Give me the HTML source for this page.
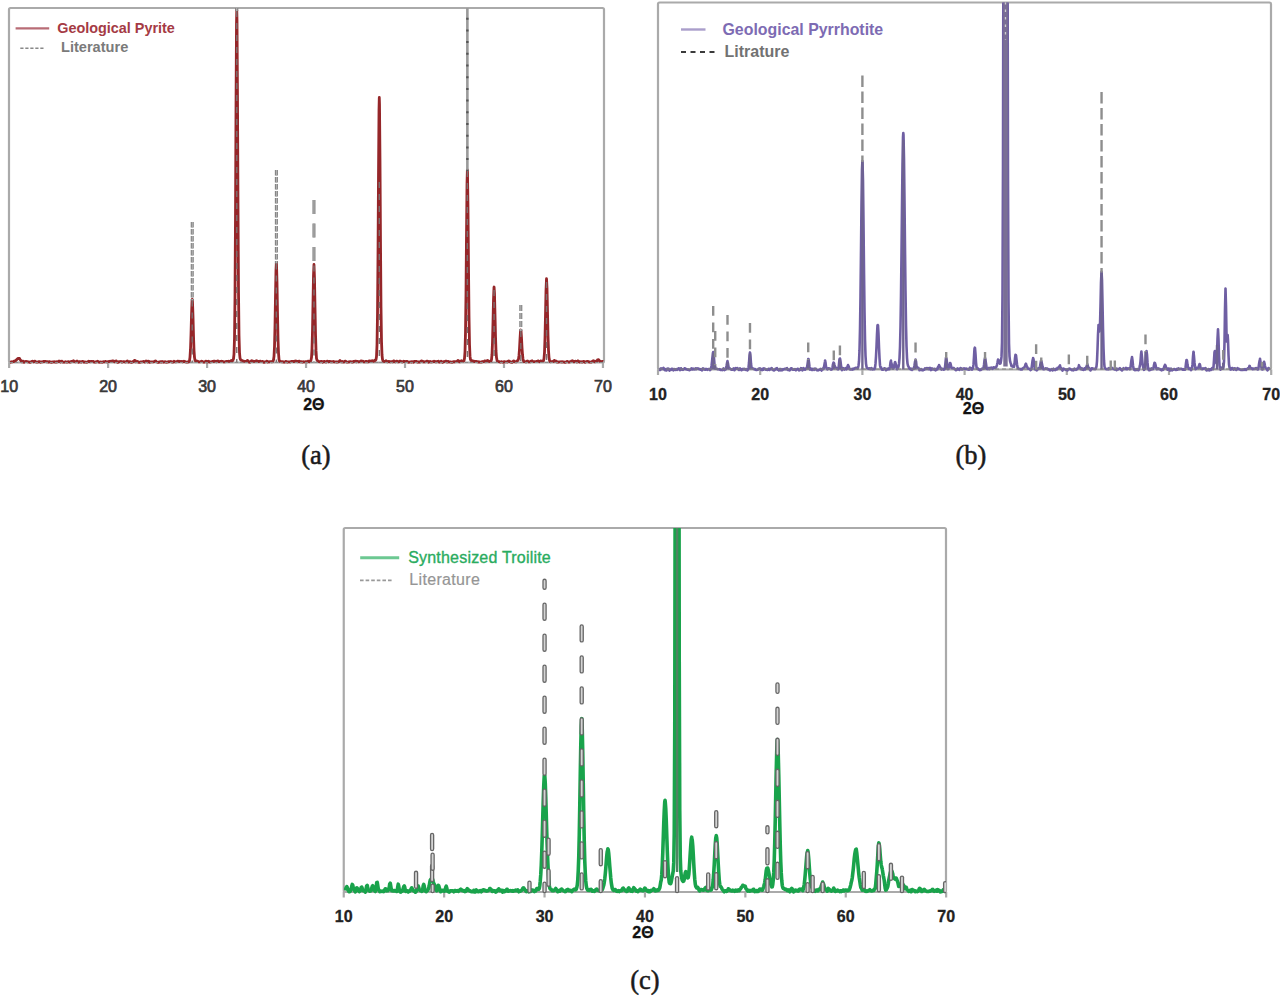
<!DOCTYPE html>
<html><head><meta charset="utf-8"><title>XRD patterns</title>
<style>
html,body{margin:0;padding:0;background:#fff;}
body{width:1280px;height:997px;overflow:hidden;}
svg{display:block;}
text{font-family:"Liberation Sans",sans-serif;}
.n{font-size:16px;font-weight:bold;fill:#222;stroke:#222;stroke-width:0.3px;text-anchor:middle;}
.na{font-weight:normal;fill:#383838;stroke:#383838;stroke-width:0.7px;}
.ttl{font-size:16px;font-weight:bold;fill:#111;stroke:#111;stroke-width:0.3px;text-anchor:middle;}
.cap{font-family:"Liberation Serif",serif;font-size:26.5px;fill:#1a1a1a;stroke:#1a1a1a;stroke-width:0.5px;text-anchor:middle;}
</style></head><body>
<svg width="1280" height="997" viewBox="0 0 1280 997">
<defs>
<clipPath id="ca"><rect x="9" y="8" width="595" height="358.5"/></clipPath>
<clipPath id="cb"><rect x="658" y="2.5" width="613" height="371"/></clipPath>
<clipPath id="cc"><rect x="343.75" y="528" width="602.25" height="368"/></clipPath>
</defs>
<rect width="1280" height="997" fill="#fff"/>
<g fill="none" stroke="#aaa" stroke-width="2.2"><rect x="9" y="8" width="595" height="354.5" rx="1.5"/><line x1="9.14" y1="362.50" x2="9.14" y2="368.00"/><line x1="108.11" y1="362.50" x2="108.11" y2="368.00"/><line x1="207.08" y1="362.50" x2="207.08" y2="368.00"/><line x1="306.05" y1="362.50" x2="306.05" y2="368.00"/><line x1="405.02" y1="362.50" x2="405.02" y2="368.00"/><line x1="503.99" y1="362.50" x2="503.99" y2="368.00"/><line x1="602.96" y1="362.50" x2="602.96" y2="368.00"/></g>
<g clip-path="url(#ca)" fill="none" stroke-linejoin="round">
<path d="M10.00,362.39 L10.50,362.30 L11.00,361.98 L11.50,361.92 L12.00,361.65 L12.50,361.90 L13.00,361.53 L13.50,361.60 L14.00,361.23 L14.50,361.29 L15.00,361.01 L15.50,360.79 L16.00,360.19 L16.50,359.86 L17.00,359.27 L17.50,358.87 L18.00,358.62 L18.50,358.30 L19.00,358.57 L19.50,358.47 L20.00,359.50 L20.50,359.95 L21.00,360.90 L21.50,361.26 L22.00,361.88 L22.50,361.26 L23.00,361.23 L23.50,361.34 L24.00,362.22 L24.50,361.89 L25.00,361.75 L25.50,361.45 L26.00,361.70 L26.50,361.50 L27.00,361.56 L27.50,361.83 L28.00,361.90 L28.50,361.97 L29.00,361.95 L29.50,362.22 L30.00,362.40 L30.50,362.01 L31.00,362.02 L31.50,361.57 L32.00,361.45 L32.50,361.18 L33.00,361.61 L33.50,361.93 L34.00,361.53 L34.50,361.31 L35.00,361.11 L35.50,361.79 L36.00,361.85 L36.50,362.20 L37.00,361.99 L37.50,362.17 L38.00,362.00 L38.50,361.74 L39.00,361.53 L39.50,361.69 L40.00,362.03 L40.50,362.22 L41.00,361.88 L41.50,361.84 L42.00,361.81 L42.50,361.91 L43.00,361.71 L43.50,361.32 L44.00,361.36 L44.50,361.53 L45.00,361.30 L45.50,361.41 L46.00,361.60 L46.50,361.86 L47.00,361.78 L47.50,361.70 L48.00,362.01 L48.50,362.17 L49.00,361.75 L49.50,361.73 L50.00,361.71 L50.50,362.12 L51.00,362.23 L51.50,362.26 L52.00,362.00 L52.50,362.04 L53.00,361.95 L53.50,361.93 L54.00,361.71 L54.50,361.85 L55.00,362.03 L55.50,362.14 L56.00,361.78 L56.50,362.01 L57.00,361.92 L57.50,361.84 L58.00,361.72 L58.50,361.33 L59.00,361.07 L59.50,361.09 L60.00,361.36 L60.50,362.02 L61.00,361.34 L61.50,361.36 L62.00,361.20 L62.50,361.92 L63.00,362.04 L63.50,362.19 L64.00,362.19 L64.50,362.12 L65.00,362.00 L65.50,361.71 L66.00,361.93 L66.50,362.10 L67.00,362.09 L67.50,362.03 L68.00,361.74 L68.50,361.77 L69.00,361.79 L69.50,362.06 L70.00,362.19 L70.50,362.22 L71.00,361.55 L71.50,361.36 L72.00,361.28 L72.50,361.23 L73.00,361.33 L73.50,360.85 L74.00,361.33 L74.50,361.33 L75.00,361.66 L75.50,361.88 L76.00,361.64 L76.50,361.48 L77.00,361.02 L77.50,361.53 L78.00,361.87 L78.50,362.32 L79.00,362.00 L79.50,361.72 L80.00,361.58 L80.50,361.91 L81.00,362.01 L81.50,361.98 L82.00,361.55 L82.50,361.39 L83.00,361.56 L83.50,361.67 L84.00,362.10 L84.50,361.91 L85.00,362.14 L85.50,361.94 L86.00,362.18 L86.50,362.17 L87.00,362.26 L87.50,361.78 L88.00,361.63 L88.50,361.15 L89.00,361.40 L89.50,361.31 L90.00,361.78 L90.50,361.52 L91.00,361.38 L91.50,361.42 L92.00,361.69 L92.50,361.59 L93.00,361.40 L93.50,361.62 L94.00,362.21 L94.50,362.20 L95.00,362.05 L95.50,361.89 L96.00,362.10 L96.50,361.87 L97.00,361.63 L97.50,361.22 L98.00,361.43 L98.50,361.75 L99.00,362.21 L99.50,362.23 L100.00,362.15 L100.50,361.94 L101.00,361.99 L101.50,362.12 L102.00,362.33 L102.50,362.02 L103.00,361.84 L103.50,361.71 L104.00,361.93 L104.50,361.68 L105.00,361.48 L105.50,361.34 L106.00,361.78 L106.50,361.92 L107.00,361.98 L107.50,361.74 L108.00,361.61 L108.50,361.72 L109.00,361.48 L109.50,361.37 L110.00,361.23 L110.50,361.59 L111.00,361.72 L111.50,361.36 L112.00,361.01 L112.50,360.92 L113.00,360.99 L113.50,361.22 L114.00,361.26 L114.50,361.85 L115.00,361.84 L115.50,361.62 L116.00,360.89 L116.50,361.09 L117.00,361.65 L117.50,362.30 L118.00,362.38 L118.50,362.10 L119.00,361.65 L119.50,361.61 L120.00,361.57 L120.50,361.52 L121.00,361.40 L121.50,361.72 L122.00,362.16 L122.50,361.99 L123.00,361.78 L123.50,361.57 L124.00,361.61 L124.50,361.77 L125.00,361.84 L125.50,362.03 L126.00,361.98 L126.50,361.54 L127.00,361.18 L127.50,360.99 L128.00,361.67 L128.50,362.15 L129.00,361.95 L129.50,361.82 L130.00,361.57 L130.50,362.05 L131.00,362.18 L131.50,362.34 L132.00,361.96 L132.50,361.98 L133.00,361.31 L133.50,361.48 L134.00,360.79 L134.50,360.43 L135.00,360.48 L135.50,360.70 L136.00,361.83 L136.50,361.60 L137.00,361.74 L137.50,361.36 L138.00,361.71 L138.50,362.03 L139.00,362.40 L139.50,362.45 L140.00,362.18 L140.50,362.01 L141.00,361.94 L141.50,361.86 L142.00,361.87 L142.50,361.71 L143.00,361.69 L143.50,361.43 L144.00,361.62 L144.50,362.00 L145.00,361.98 L145.50,361.42 L146.00,360.92 L146.50,361.22 L147.00,361.55 L147.50,361.93 L148.00,361.18 L148.50,361.36 L149.00,361.47 L149.50,362.35 L150.00,362.06 L150.50,361.99 L151.00,361.96 L151.50,361.92 L152.00,361.90 L152.50,361.96 L153.00,361.84 L153.50,361.76 L154.00,361.63 L154.50,361.52 L155.00,361.17 L155.50,360.97 L156.00,361.28 L156.50,361.60 L157.00,361.90 L157.50,362.14 L158.00,362.29 L158.50,362.26 L159.00,362.31 L159.50,361.87 L160.00,361.75 L160.50,361.75 L161.00,362.07 L161.50,362.04 L162.00,361.50 L162.50,361.53 L163.00,361.73 L163.50,362.17 L164.00,361.95 L164.50,361.95 L165.00,361.77 L165.50,362.02 L166.00,361.96 L166.50,362.19 L167.00,362.29 L167.50,361.81 L168.00,361.81 L168.50,361.55 L169.00,361.79 L169.50,361.60 L170.00,361.70 L170.50,361.48 L171.00,361.64 L171.50,361.63 L172.00,362.09 L172.50,362.20 L173.00,362.06 L173.50,361.97 L174.00,361.26 L174.50,361.52 L175.00,361.61 L175.50,361.95 L176.00,361.92 L176.50,361.56 L177.00,361.53 L177.50,361.20 L178.00,361.32 L178.50,361.32 L179.00,361.23 L179.50,361.46 L180.00,361.64 L180.50,361.49 L181.00,361.51 L181.50,361.49 L182.00,361.69 L182.50,361.74 L183.00,361.43 L183.50,361.56 L184.00,361.24 L184.50,361.45 L185.00,361.60 L185.50,361.81 L186.00,362.02 L186.50,362.10 L187.00,362.07 L187.50,362.01 L188.00,362.02 L188.50,361.96 L189.00,361.78 L189.50,360.71 L190.00,357.12 L190.50,349.21 L191.00,334.80 L191.50,316.00 L192.00,302.03 L192.23,299.50 L192.50,301.98 L193.00,316.49 L193.50,335.73 L194.00,350.32 L194.50,357.37 L195.00,360.30 L195.50,360.96 L196.00,361.56 L196.50,360.99 L197.00,361.20 L197.50,361.18 L198.00,361.59 L198.50,361.66 L199.00,361.89 L199.50,361.91 L200.00,361.90 L200.50,361.56 L201.00,361.58 L201.50,361.26 L202.00,361.29 L202.50,361.51 L203.00,361.71 L203.50,362.04 L204.00,362.08 L204.50,362.14 L205.00,361.73 L205.50,361.36 L206.00,361.21 L206.50,361.59 L207.00,362.02 L207.50,361.95 L208.00,361.41 L208.50,361.21 L209.00,361.50 L209.50,361.97 L210.00,362.11 L210.50,361.81 L211.00,361.88 L211.50,361.58 L212.00,361.62 L212.50,361.41 L213.00,361.67 L213.50,361.33 L214.00,361.14 L214.50,361.09 L215.00,361.28 L215.50,361.61 L216.00,361.72 L216.50,361.79 L217.00,361.03 L217.50,361.07 L218.00,360.91 L218.50,361.57 L219.00,361.57 L219.50,361.53 L220.00,361.62 L220.50,361.33 L221.00,361.47 L221.50,361.22 L222.00,361.44 L222.50,361.50 L223.00,361.69 L223.50,361.64 L224.00,361.97 L224.50,361.95 L225.00,361.80 L225.50,361.70 L226.00,361.51 L226.50,361.32 L227.00,361.39 L227.50,361.41 L228.00,361.29 L228.50,361.26 L229.00,361.29 L229.50,361.43 L230.00,361.06 L230.50,361.01 L231.00,360.71 L231.50,360.59 L232.00,360.44 L232.50,360.62 L233.00,360.15 L233.50,358.76 L234.00,354.04 L234.50,338.22 L235.00,296.73 L235.50,215.97 L236.00,108.68 L236.50,24.16 L236.77,10.00 L237.00,19.93 L237.50,99.55 L238.00,207.20 L238.50,290.98 L239.00,335.21 L239.50,352.58 L240.00,358.07 L240.50,359.52 L241.00,360.13 L241.50,360.05 L242.00,360.38 L242.50,360.67 L243.00,361.03 L243.50,361.10 L244.00,361.32 L244.50,361.31 L245.00,361.38 L245.50,361.52 L246.00,361.42 L246.50,361.29 L247.00,360.83 L247.50,360.54 L248.00,360.87 L248.50,361.44 L249.00,362.10 L249.50,362.17 L250.00,362.25 L250.50,361.60 L251.00,361.30 L251.50,360.78 L252.00,361.10 L252.50,361.01 L253.00,361.30 L253.50,361.37 L254.00,361.51 L254.50,361.28 L255.00,361.45 L255.50,361.30 L256.00,360.81 L256.50,360.75 L257.00,360.86 L257.50,361.49 L258.00,361.30 L258.50,361.57 L259.00,361.41 L259.50,361.45 L260.00,361.06 L260.50,361.30 L261.00,361.50 L261.50,361.68 L262.00,361.31 L262.50,361.31 L263.00,361.60 L263.50,362.23 L264.00,362.34 L264.50,361.95 L265.00,361.95 L265.50,361.97 L266.00,361.90 L266.50,361.27 L267.00,361.23 L267.50,361.40 L268.00,362.02 L268.50,361.84 L269.00,361.84 L269.50,361.82 L270.00,361.64 L270.50,361.66 L271.00,361.61 L271.50,361.83 L272.00,361.91 L272.50,361.57 L273.00,361.03 L273.50,359.95 L274.00,356.35 L274.50,346.50 L275.00,325.94 L275.50,296.03 L276.00,269.86 L276.36,262.50 L276.50,263.86 L277.00,282.89 L277.50,312.88 L278.00,338.42 L278.50,352.82 L279.00,359.38 L279.50,361.12 L280.00,361.56 L280.50,361.44 L281.00,361.58 L281.50,361.58 L282.00,361.93 L282.50,361.64 L283.00,361.77 L283.50,361.78 L284.00,362.17 L284.50,362.11 L285.00,361.98 L285.50,361.46 L286.00,361.46 L286.50,361.57 L287.00,362.06 L287.50,362.10 L288.00,361.96 L288.50,361.97 L289.00,361.89 L289.50,361.97 L290.00,361.99 L290.50,361.68 L291.00,361.65 L291.50,361.31 L292.00,361.49 L292.50,361.60 L293.00,361.46 L293.50,361.49 L294.00,361.52 L294.50,361.18 L295.00,361.38 L295.50,360.91 L296.00,361.34 L296.50,361.25 L297.00,361.32 L297.50,361.65 L298.00,361.77 L298.50,361.61 L299.00,361.18 L299.50,361.23 L300.00,361.76 L300.50,361.87 L301.00,361.66 L301.50,361.60 L302.00,361.90 L302.50,362.10 L303.00,361.89 L303.50,361.76 L304.00,361.77 L304.50,361.85 L305.00,361.91 L305.50,361.54 L306.00,361.65 L306.50,361.73 L307.00,361.96 L307.50,361.72 L308.00,361.23 L308.50,361.12 L309.00,361.40 L309.50,361.80 L310.00,361.31 L310.50,360.97 L311.00,360.08 L311.50,357.58 L312.00,348.76 L312.50,330.99 L313.00,303.12 L313.50,275.78 L313.97,264.50 L314.00,264.87 L314.50,278.90 L315.00,307.05 L315.50,333.88 L316.00,350.39 L316.50,358.32 L317.00,360.16 L317.50,360.62 L318.00,360.95 L318.50,361.53 L319.00,361.72 L319.50,361.68 L320.00,361.81 L320.50,361.80 L321.00,361.32 L321.50,361.30 L322.00,361.62 L322.50,362.24 L323.00,361.84 L323.50,361.85 L324.00,361.42 L324.50,361.56 L325.00,361.51 L325.50,361.96 L326.00,362.02 L326.50,361.73 L327.00,361.27 L327.50,361.23 L328.00,361.48 L328.50,361.78 L329.00,361.57 L329.50,361.33 L330.00,361.39 L330.50,361.75 L331.00,361.95 L331.50,361.76 L332.00,361.85 L332.50,361.63 L333.00,361.68 L333.50,361.46 L334.00,361.78 L334.50,361.85 L335.00,361.91 L335.50,361.89 L336.00,361.82 L336.50,362.03 L337.00,362.00 L337.50,362.00 L338.00,361.80 L338.50,361.77 L339.00,361.67 L339.50,361.11 L340.00,360.56 L340.50,360.97 L341.00,361.67 L341.50,361.84 L342.00,361.81 L342.50,361.55 L343.00,362.04 L343.50,361.93 L344.00,361.98 L344.50,361.45 L345.00,361.10 L345.50,361.16 L346.00,361.47 L346.50,361.92 L347.00,362.08 L347.50,362.13 L348.00,362.06 L348.50,361.96 L349.00,361.86 L349.50,361.85 L350.00,361.67 L350.50,361.58 L351.00,361.70 L351.50,361.80 L352.00,362.07 L352.50,362.00 L353.00,362.02 L353.50,361.58 L354.00,361.29 L354.50,361.40 L355.00,361.08 L355.50,361.10 L356.00,361.19 L356.50,361.83 L357.00,361.44 L357.50,361.40 L358.00,361.52 L358.50,361.81 L359.00,361.72 L359.50,361.61 L360.00,361.85 L360.50,361.35 L361.00,360.98 L361.50,360.96 L362.00,361.39 L362.50,361.27 L363.00,361.24 L363.50,361.41 L364.00,361.96 L364.50,361.94 L365.00,361.88 L365.50,361.44 L366.00,361.54 L366.50,361.39 L367.00,361.86 L367.50,361.76 L368.00,361.89 L368.50,361.18 L369.00,360.95 L369.50,360.96 L370.00,361.36 L370.50,361.07 L371.00,361.12 L371.50,360.84 L372.00,361.17 L372.50,360.70 L373.00,361.09 L373.50,361.29 L374.00,360.90 L374.50,360.82 L375.00,360.11 L375.50,360.36 L376.00,359.50 L376.50,356.51 L377.00,345.13 L377.50,314.62 L378.00,255.25 L378.50,174.40 L379.00,109.90 L379.29,97.50 L379.50,103.98 L380.00,161.60 L380.50,242.90 L381.00,307.00 L381.50,341.26 L382.00,355.00 L382.50,359.34 L383.00,360.89 L383.50,361.27 L384.00,361.35 L384.50,361.58 L385.00,361.34 L385.50,361.45 L386.00,360.75 L386.50,361.16 L387.00,361.26 L387.50,361.91 L388.00,361.72 L388.50,361.44 L389.00,361.57 L389.50,361.52 L390.00,361.83 L390.50,361.88 L391.00,361.67 L391.50,361.54 L392.00,361.56 L392.50,361.93 L393.00,361.66 L393.50,361.01 L394.00,360.96 L394.50,361.30 L395.00,361.76 L395.50,361.79 L396.00,361.49 L396.50,361.17 L397.00,361.13 L397.50,361.52 L398.00,361.84 L398.50,361.91 L399.00,361.70 L399.50,361.21 L400.00,361.27 L400.50,361.07 L401.00,361.57 L401.50,361.57 L402.00,361.99 L402.50,361.66 L403.00,361.72 L403.50,361.30 L404.00,361.59 L404.50,361.34 L405.00,361.45 L405.50,361.56 L406.00,361.66 L406.50,361.40 L407.00,361.30 L407.50,361.49 L408.00,362.06 L408.50,362.27 L409.00,362.09 L409.50,362.20 L410.00,361.80 L410.50,361.88 L411.00,361.75 L411.50,362.04 L412.00,361.68 L412.50,361.76 L413.00,361.82 L413.50,362.25 L414.00,361.84 L414.50,361.36 L415.00,361.39 L415.50,361.44 L416.00,361.42 L416.50,361.36 L417.00,361.75 L417.50,362.10 L418.00,362.16 L418.50,361.97 L419.00,362.03 L419.50,361.81 L420.00,362.02 L420.50,361.87 L421.00,361.22 L421.50,360.88 L422.00,361.06 L422.50,361.67 L423.00,361.75 L423.50,361.51 L424.00,361.63 L424.50,361.90 L425.00,361.96 L425.50,361.79 L426.00,361.63 L426.50,361.24 L427.00,361.07 L427.50,361.09 L428.00,361.78 L428.50,362.22 L429.00,361.74 L429.50,361.63 L430.00,361.42 L430.50,361.84 L431.00,361.98 L431.50,361.94 L432.00,361.92 L432.50,361.74 L433.00,361.64 L433.50,361.58 L434.00,361.28 L434.50,361.61 L435.00,361.49 L435.50,361.82 L436.00,361.57 L436.50,361.77 L437.00,361.88 L437.50,361.34 L438.00,361.28 L438.50,361.16 L439.00,362.00 L439.50,362.15 L440.00,361.90 L440.50,361.76 L441.00,361.27 L441.50,361.59 L442.00,361.76 L442.50,362.33 L443.00,361.96 L443.50,361.86 L444.00,361.61 L444.50,361.68 L445.00,361.49 L445.50,361.04 L446.00,361.15 L446.50,361.36 L447.00,362.04 L447.50,361.69 L448.00,361.45 L448.50,361.46 L449.00,361.92 L449.50,361.98 L450.00,361.87 L450.50,361.92 L451.00,362.08 L451.50,362.19 L452.00,362.24 L452.50,361.94 L453.00,361.97 L453.50,361.70 L454.00,361.76 L454.50,361.67 L455.00,361.74 L455.50,361.70 L456.00,361.71 L456.50,361.56 L457.00,361.52 L457.50,360.77 L458.00,360.41 L458.50,360.71 L459.00,361.24 L459.50,361.88 L460.00,361.89 L460.50,361.57 L461.00,361.10 L461.50,360.71 L462.00,361.16 L462.50,361.03 L463.00,361.20 L463.50,360.75 L464.00,360.58 L464.50,358.40 L465.00,351.75 L465.50,332.59 L466.00,293.32 L466.50,235.61 L467.00,184.24 L467.37,170.00 L467.50,172.47 L468.00,208.72 L468.50,266.91 L469.00,316.21 L469.50,344.19 L470.00,356.15 L470.50,359.60 L471.00,360.38 L471.50,360.36 L472.00,360.72 L472.50,360.93 L473.00,360.99 L473.50,361.25 L474.00,361.23 L474.50,361.59 L475.00,361.33 L475.50,361.39 L476.00,361.39 L476.50,361.60 L477.00,361.78 L477.50,361.72 L478.00,361.75 L478.50,361.99 L479.00,362.04 L479.50,362.00 L480.00,361.99 L480.50,362.17 L481.00,362.15 L481.50,362.03 L482.00,361.65 L482.50,361.78 L483.00,361.61 L483.50,361.58 L484.00,361.45 L484.50,360.96 L485.00,361.09 L485.50,361.01 L486.00,361.68 L486.50,361.31 L487.00,360.99 L487.50,360.40 L488.00,360.69 L488.50,361.03 L489.00,361.41 L489.50,361.44 L490.00,361.58 L490.50,361.56 L491.00,361.16 L491.50,359.58 L492.00,354.47 L492.50,342.31 L493.00,322.29 L493.50,299.68 L494.00,287.22 L494.09,287.00 L494.50,293.66 L495.00,314.49 L495.50,336.22 L496.00,350.97 L496.50,357.54 L497.00,360.33 L497.50,361.18 L498.00,361.57 L498.50,361.62 L499.00,361.48 L499.50,361.87 L500.00,361.91 L500.50,362.10 L501.00,361.76 L501.50,361.68 L502.00,361.81 L502.50,362.14 L503.00,362.23 L503.50,362.01 L504.00,361.71 L504.50,361.61 L505.00,361.77 L505.50,361.84 L506.00,361.86 L506.50,361.88 L507.00,362.03 L507.50,361.45 L508.00,361.46 L508.50,360.98 L509.00,361.36 L509.50,361.25 L510.00,361.74 L510.50,361.92 L511.00,362.13 L511.50,362.25 L512.00,362.30 L512.50,361.68 L513.00,361.62 L513.50,360.94 L514.00,361.44 L514.50,361.25 L515.00,361.77 L515.50,361.81 L516.00,361.95 L516.50,361.68 L517.00,361.10 L517.50,360.72 L518.00,360.13 L518.50,359.10 L519.00,355.44 L519.50,348.86 L520.00,339.39 L520.50,331.45 L520.81,330.00 L521.00,330.72 L521.50,337.84 L522.00,347.45 L522.50,354.77 L523.00,359.02 L523.50,360.89 L524.00,361.70 L524.50,361.71 L525.00,361.71 L525.50,361.79 L526.00,362.00 L526.50,361.49 L527.00,361.09 L527.50,361.01 L528.00,361.32 L528.50,361.90 L529.00,361.73 L529.50,361.94 L530.00,361.59 L530.50,361.82 L531.00,361.06 L531.50,361.15 L532.00,360.80 L532.50,361.35 L533.00,361.61 L533.50,361.64 L534.00,361.66 L534.50,361.56 L535.00,361.59 L535.50,361.58 L536.00,361.68 L536.50,361.60 L537.00,361.35 L537.50,361.23 L538.00,360.83 L538.50,361.10 L539.00,361.11 L539.50,361.71 L540.00,361.30 L540.50,361.09 L541.00,360.82 L541.50,361.13 L542.00,361.09 L542.50,361.15 L543.00,360.95 L543.50,360.77 L544.00,358.50 L544.50,352.33 L545.00,337.75 L545.50,315.14 L546.00,290.70 L546.50,278.77 L546.55,279.00 L547.00,288.01 L547.50,311.76 L548.00,335.42 L548.50,350.33 L549.00,357.58 L549.50,360.20 L550.00,361.60 L550.50,361.73 L551.00,361.75 L551.50,361.63 L552.00,361.47 L552.50,361.70 L553.00,361.71 L553.50,361.29 L554.00,360.62 L554.50,360.36 L555.00,360.98 L555.50,360.92 L556.00,361.17 L556.50,361.20 L557.00,362.01 L557.50,362.10 L558.00,362.11 L558.50,361.99 L559.00,361.93 L559.50,361.86 L560.00,361.91 L560.50,361.75 L561.00,361.87 L561.50,361.72 L562.00,362.07 L562.50,361.73 L563.00,361.92 L563.50,361.80 L564.00,362.04 L564.50,362.15 L565.00,362.29 L565.50,362.30 L566.00,362.06 L566.50,361.73 L567.00,361.37 L567.50,361.62 L568.00,361.74 L568.50,362.04 L569.00,361.81 L569.50,362.02 L570.00,361.94 L570.50,361.78 L571.00,361.56 L571.50,361.02 L572.00,361.16 L572.50,360.73 L573.00,361.51 L573.50,361.40 L574.00,361.88 L574.50,361.42 L575.00,361.53 L575.50,361.13 L576.00,361.49 L576.50,361.75 L577.00,362.01 L577.50,361.26 L578.00,360.81 L578.50,361.13 L579.00,361.86 L579.50,362.10 L580.00,361.94 L580.50,361.69 L581.00,361.89 L581.50,361.77 L582.00,362.12 L582.50,362.11 L583.00,361.62 L583.50,361.34 L584.00,361.33 L584.50,362.09 L585.00,362.24 L585.50,361.92 L586.00,361.80 L586.50,361.67 L587.00,361.46 L587.50,361.31 L588.00,361.41 L588.50,361.97 L589.00,361.93 L589.50,361.99 L590.00,362.00 L590.50,362.18 L591.00,362.10 L591.50,362.02 L592.00,361.56 L592.50,361.36 L593.00,360.88 L593.50,360.74 L594.00,360.99 L594.50,361.40 L595.00,361.90 L595.50,361.51 L596.00,361.24 L596.50,360.98 L597.00,360.84 L597.50,359.92 L598.00,359.76 L598.50,359.60 L599.00,360.35 L599.50,360.71 L600.00,361.18 L600.50,361.38 L601.00,361.51 L601.50,361.55 L602.00,361.53 L602.50,361.34 L603.00,361.68" stroke="#952629" stroke-width="2.8"/>
<path d="M192.23,222.00 L192.23,300.50" stroke="#7a7a7a" stroke-width="3" stroke-dasharray="5.5 1.5"/>
<path d="M192.23,222.00 L192.23,300.50" stroke="#b8b8b8" stroke-width="1.1" stroke-dasharray="5.5 1.5"/>
<path d="M192.23,300.50 L192.23,362.50" stroke="#7d6f70" stroke-width="1.4" stroke-dasharray="6 6"/>
<path d="M236.77,8.00 L236.77,11.00" stroke="#7a7a7a" stroke-width="3" stroke-dasharray="6 2"/>
<path d="M236.77,8.00 L236.77,11.00" stroke="#b8b8b8" stroke-width="1.1" stroke-dasharray="6 2"/>
<path d="M236.77,11.00 L236.77,362.50" stroke="#7d6f70" stroke-width="1.4" stroke-dasharray="6 6"/>
<path d="M276.36,170.00 L276.36,263.50" stroke="#7a7a7a" stroke-width="3" stroke-dasharray="5.5 1.5"/>
<path d="M276.36,170.00 L276.36,263.50" stroke="#b8b8b8" stroke-width="1.1" stroke-dasharray="5.5 1.5"/>
<path d="M276.36,263.50 L276.36,362.50" stroke="#7d6f70" stroke-width="1.4" stroke-dasharray="6 6"/>
<path d="M313.97,200.00 L313.97,265.50" stroke="#7a7a7a" stroke-width="3" stroke-dasharray="14 9.5"/>
<path d="M313.97,200.00 L313.97,265.50" stroke="#b8b8b8" stroke-width="1.1" stroke-dasharray="14 9.5"/>
<path d="M313.97,265.50 L313.97,362.50" stroke="#7d6f70" stroke-width="1.4" stroke-dasharray="6 6"/>
<path d="M379.29,182.00 L379.29,362.50" stroke="#7d6f70" stroke-width="1.4" stroke-dasharray="6 6"/>
<path d="M467.37,6.00 L467.37,171.00" stroke="#9a9a9a" stroke-width="2.6"/>
<path d="M467.37,6.00 L467.37,171.00" stroke="#555" stroke-width="2.4" stroke-dasharray="2 9.7"/>
<path d="M467.37,171.00 L467.37,362.50" stroke="#7d6f70" stroke-width="1.4" stroke-dasharray="6 6"/>
<path d="M494.09,290.00 L494.09,362.50" stroke="#7d6f70" stroke-width="1.4" stroke-dasharray="6 6"/>
<path d="M520.81,305.00 L520.81,331.00" stroke="#7a7a7a" stroke-width="3" stroke-dasharray="6 2"/>
<path d="M520.81,305.00 L520.81,331.00" stroke="#b8b8b8" stroke-width="1.1" stroke-dasharray="6 2"/>
<path d="M520.81,331.00 L520.81,362.50" stroke="#7d6f70" stroke-width="1.4" stroke-dasharray="6 6"/>
<path d="M546.55,282.00 L546.55,362.50" stroke="#7d6f70" stroke-width="1.4" stroke-dasharray="6 6"/>
<path d="M10.00,362.50 H604.00" stroke="#8c8c8c" stroke-width="1.2" stroke-dasharray="3 2"/>
</g>
<line x1="15.6" y1="28.4" x2="49.2" y2="28.4" stroke="#b86c76" stroke-width="2.2"/>
<line x1="20.3" y1="48.3" x2="45.3" y2="48.3" stroke="#888" stroke-width="1.6" stroke-dasharray="3.2 1.8"/>
<text x="57.3" y="32.5" class="lg" fill="#a53a44" font-weight="bold" font-size="14.4">Geological Pyrite</text>
<text x="61" y="52.3" class="lg" fill="#7a7a7a" font-weight="bold" font-size="14.6">Literature</text>
<g><text x="9.14" y="391.50" class="n na">10</text><text x="108.11" y="391.50" class="n na">20</text><text x="207.08" y="391.50" class="n na">30</text><text x="306.05" y="391.50" class="n na">40</text><text x="405.02" y="391.50" class="n na">50</text><text x="503.99" y="391.50" class="n na">60</text><text x="602.96" y="391.50" class="n na">70</text></g>
<text x="313.8" y="409.8" class="ttl">2Θ</text>
<text x="316" y="464" class="cap">(a)</text>
<g fill="none" stroke="#aaa" stroke-width="2.2"><rect x="658" y="2.5" width="613" height="367" rx="1.5"/><line x1="658.00" y1="369.50" x2="658.00" y2="375.00"/><line x1="760.20" y1="369.50" x2="760.20" y2="375.00"/><line x1="862.40" y1="369.50" x2="862.40" y2="375.00"/><line x1="964.60" y1="369.50" x2="964.60" y2="375.00"/><line x1="1066.80" y1="369.50" x2="1066.80" y2="375.00"/><line x1="1169.00" y1="369.50" x2="1169.00" y2="375.00"/><line x1="1271.20" y1="369.50" x2="1271.20" y2="375.00"/></g>
<g clip-path="url(#cb)" fill="none" stroke-linejoin="round">
<path d="M659.00,369.71 L659.50,369.50 L660.00,370.02 L660.50,368.73 L661.00,368.46 L661.50,369.17 L662.00,368.59 L662.50,368.95 L663.00,368.87 L663.50,367.93 L664.00,368.88 L664.50,369.76 L665.00,370.12 L665.50,369.23 L666.00,369.14 L666.50,370.50 L667.00,369.45 L667.50,368.56 L668.00,368.89 L668.50,368.69 L669.00,369.63 L669.50,370.60 L670.00,369.91 L670.50,369.97 L671.00,369.96 L671.50,368.94 L672.00,368.71 L672.50,368.89 L673.00,369.80 L673.50,370.37 L674.00,369.10 L674.50,369.27 L675.00,369.81 L675.50,369.92 L676.00,369.31 L676.50,369.13 L677.00,369.92 L677.50,369.36 L678.00,368.90 L678.50,368.31 L679.00,368.29 L679.50,369.17 L680.00,370.16 L680.50,369.62 L681.00,368.28 L681.50,369.31 L682.00,369.61 L682.50,369.37 L683.00,369.84 L683.50,369.32 L684.00,369.09 L684.50,368.39 L685.00,368.28 L685.50,369.18 L686.00,369.13 L686.50,369.02 L687.00,369.48 L687.50,369.63 L688.00,369.51 L688.50,369.63 L689.00,370.01 L689.50,370.21 L690.00,369.91 L690.50,369.69 L691.00,369.10 L691.50,368.27 L692.00,369.01 L692.50,369.35 L693.00,368.51 L693.50,368.90 L694.00,369.42 L694.50,369.30 L695.00,369.15 L695.50,368.38 L696.00,369.15 L696.50,369.14 L697.00,368.35 L697.50,368.60 L698.00,368.65 L698.50,368.53 L699.00,369.00 L699.50,369.24 L700.00,369.33 L700.50,369.63 L701.00,369.01 L701.50,369.47 L702.00,370.40 L702.50,369.51 L703.00,368.39 L703.50,368.58 L704.00,369.31 L704.50,369.32 L705.00,369.67 L705.50,369.66 L706.00,368.92 L706.50,368.99 L707.00,369.18 L707.50,369.77 L708.00,369.34 L708.50,368.98 L709.00,368.94 L709.50,369.08 L710.00,370.04 L710.50,369.66 L711.00,368.33 L711.50,366.00 L712.00,361.57 L712.50,356.98 L713.00,352.73 L713.19,352.00 L713.50,353.25 L714.00,358.28 L714.50,364.47 L715.00,367.72 L715.50,368.75 L716.00,368.81 L716.50,368.73 L717.00,368.77 L717.50,369.16 L718.00,369.17 L718.50,369.23 L719.00,369.34 L719.50,369.17 L720.00,369.24 L720.50,369.91 L721.00,370.00 L721.50,369.70 L722.00,369.87 L722.50,370.09 L723.00,369.68 L723.50,368.45 L724.00,368.90 L724.50,370.07 L725.00,369.65 L725.50,369.44 L726.00,368.23 L726.50,365.97 L727.00,363.36 L727.50,361.00 L727.50,361.37 L728.00,363.48 L728.50,366.65 L729.00,368.29 L729.50,368.02 L730.00,368.71 L730.50,369.03 L731.00,369.38 L731.50,369.70 L732.00,369.26 L732.50,369.70 L733.00,369.12 L733.50,368.43 L734.00,369.47 L734.50,370.15 L735.00,369.12 L735.50,368.07 L736.00,368.38 L736.50,368.56 L737.00,368.00 L737.50,368.20 L738.00,368.71 L738.50,369.49 L739.00,369.90 L739.50,369.30 L740.00,368.46 L740.50,368.95 L741.00,369.74 L741.50,370.16 L742.00,369.71 L742.50,369.07 L743.00,368.92 L743.50,369.24 L744.00,369.44 L744.50,368.78 L745.00,369.07 L745.50,369.79 L746.00,369.88 L746.50,369.04 L747.00,369.34 L747.50,370.27 L748.00,369.52 L748.50,367.75 L749.00,362.99 L749.50,355.85 L749.98,352.50 L750.00,352.47 L750.50,356.52 L751.00,363.75 L751.50,367.49 L752.00,368.07 L752.50,368.48 L753.00,368.58 L753.50,368.47 L754.00,369.07 L754.50,369.32 L755.00,368.99 L755.50,369.50 L756.00,369.78 L756.50,370.06 L757.00,369.81 L757.50,369.49 L758.00,369.60 L758.50,368.88 L759.00,368.49 L759.50,368.75 L760.00,368.29 L760.50,368.99 L761.00,369.70 L761.50,369.89 L762.00,370.06 L762.50,368.78 L763.00,369.24 L763.50,369.52 L764.00,368.36 L764.50,368.73 L765.00,368.83 L765.50,368.93 L766.00,369.60 L766.50,369.50 L767.00,369.74 L767.50,370.04 L768.00,369.87 L768.50,368.85 L769.00,368.81 L769.50,369.94 L770.00,369.04 L770.50,369.17 L771.00,369.13 L771.50,368.06 L772.00,368.54 L772.50,369.18 L773.00,369.85 L773.50,370.34 L774.00,370.48 L774.50,370.11 L775.00,369.66 L775.50,368.79 L776.00,368.60 L776.50,368.50 L777.00,368.22 L777.50,369.49 L778.00,369.74 L778.50,369.72 L779.00,370.49 L779.50,369.32 L780.00,368.87 L780.50,370.00 L781.00,370.35 L781.50,369.66 L782.00,369.12 L782.50,370.08 L783.00,369.70 L783.50,369.33 L784.00,369.23 L784.50,368.89 L785.00,369.25 L785.50,369.30 L786.00,369.09 L786.50,368.29 L787.00,368.11 L787.50,369.49 L788.00,369.94 L788.50,369.69 L789.00,370.28 L789.50,370.34 L790.00,370.12 L790.50,368.98 L791.00,368.23 L791.50,368.39 L792.00,368.46 L792.50,369.27 L793.00,369.73 L793.50,369.54 L794.00,369.69 L794.50,369.71 L795.00,369.00 L795.50,369.52 L796.00,370.26 L796.50,369.65 L797.00,369.05 L797.50,368.80 L798.00,368.73 L798.50,369.54 L799.00,370.35 L799.50,370.05 L800.00,369.90 L800.50,369.23 L801.00,368.16 L801.50,368.26 L802.00,369.70 L802.50,370.28 L803.00,369.12 L803.50,368.18 L804.00,368.49 L804.50,369.35 L805.00,369.70 L805.50,369.26 L806.00,368.40 L806.50,368.34 L807.00,367.56 L807.50,364.36 L808.00,360.81 L808.23,359.00 L808.50,358.95 L809.00,362.50 L809.50,366.94 L810.00,369.56 L810.50,368.92 L811.00,368.55 L811.50,369.66 L812.00,370.06 L812.50,369.21 L813.00,368.78 L813.50,369.06 L814.00,369.81 L814.50,369.04 L815.00,368.62 L815.50,369.00 L816.00,368.89 L816.50,369.85 L817.00,370.30 L817.50,370.32 L818.00,370.39 L818.50,370.18 L819.00,369.85 L819.50,369.66 L820.00,369.74 L820.50,368.99 L821.00,369.50 L821.50,370.57 L822.00,369.38 L822.50,368.72 L823.00,369.16 L823.50,369.00 L824.00,367.10 L824.50,364.13 L825.00,361.47 L825.10,360.50 L825.50,362.43 L826.00,366.70 L826.50,368.19 L827.00,368.70 L827.50,369.27 L828.00,368.46 L828.50,368.26 L829.00,368.25 L829.50,368.72 L830.00,368.74 L830.50,368.78 L831.00,369.64 L831.50,369.56 L832.00,369.15 L832.50,367.57 L833.00,364.32 L833.50,362.55 L833.78,363.00 L834.00,362.96 L834.50,365.02 L835.00,366.82 L835.50,367.42 L836.00,367.77 L836.50,368.15 L837.00,368.58 L837.50,369.22 L838.00,369.36 L838.50,368.41 L839.00,364.24 L839.50,359.18 L839.92,358.50 L840.00,358.52 L840.50,361.36 L841.00,365.34 L841.50,368.52 L842.00,370.13 L842.50,368.97 L843.00,368.06 L843.50,368.47 L844.00,368.91 L844.50,369.52 L845.00,369.04 L845.50,368.22 L846.00,368.69 L846.50,369.25 L847.00,368.65 L847.50,366.52 L848.00,365.06 L848.09,365.50 L848.50,366.07 L849.00,367.30 L849.50,368.85 L850.00,369.47 L850.50,369.52 L851.00,369.54 L851.50,369.10 L852.00,368.91 L852.50,369.53 L853.00,369.06 L853.50,368.56 L854.00,369.04 L854.50,368.70 L855.00,368.22 L855.50,367.97 L856.00,367.82 L856.50,368.00 L857.00,368.00 L857.50,368.50 L858.00,367.81 L858.50,365.71 L859.00,361.44 L859.50,350.67 L860.00,329.56 L860.50,296.20 L861.00,251.50 L861.50,204.05 L862.00,169.62 L862.40,161.00 L862.50,161.81 L863.00,180.96 L863.50,222.79 L864.00,270.78 L864.50,311.07 L865.00,339.02 L865.50,355.63 L866.00,363.62 L866.50,366.81 L867.00,367.95 L867.50,368.15 L868.00,368.29 L868.50,368.82 L869.00,368.86 L869.50,368.18 L870.00,368.20 L870.50,369.23 L871.00,368.92 L871.50,368.17 L872.00,369.19 L872.50,369.41 L873.00,369.03 L873.50,368.88 L874.00,369.19 L874.50,369.19 L875.00,367.77 L875.50,363.69 L876.00,356.65 L876.50,346.77 L877.00,334.20 L877.50,325.41 L877.73,325.00 L878.00,325.30 L878.50,333.98 L879.00,347.24 L879.50,357.88 L880.00,365.20 L880.50,367.48 L881.00,367.30 L881.50,368.73 L882.00,369.61 L882.50,369.36 L883.00,369.76 L883.50,369.34 L884.00,368.43 L884.50,368.29 L885.00,368.45 L885.50,369.56 L886.00,370.23 L886.50,369.48 L887.00,368.77 L887.50,368.96 L888.00,369.32 L888.50,368.61 L889.00,369.09 L889.50,369.21 L890.00,366.70 L890.50,362.35 L891.00,360.58 L891.02,362.00 L891.50,363.35 L892.00,365.69 L892.50,368.24 L893.00,368.64 L893.50,368.25 L894.00,366.95 L894.50,364.36 L895.00,362.14 L895.10,362.00 L895.50,363.13 L896.00,364.77 L896.50,367.45 L897.00,369.27 L897.50,368.77 L898.00,367.75 L898.50,366.86 L899.00,363.90 L899.50,358.25 L900.00,347.28 L900.50,327.02 L901.00,295.68 L901.50,253.74 L902.00,206.71 L902.50,163.92 L903.00,137.17 L903.28,133.00 L903.50,134.85 L904.00,158.98 L904.50,201.46 L905.00,248.37 L905.50,291.30 L906.00,324.52 L906.50,345.91 L907.00,357.81 L907.50,363.57 L908.00,365.68 L908.50,366.59 L909.00,367.89 L909.50,368.71 L910.00,368.85 L910.50,369.25 L911.00,368.51 L911.50,368.81 L912.00,369.97 L912.50,369.11 L913.00,368.54 L913.50,368.97 L914.00,367.67 L914.50,365.13 L915.00,361.84 L915.50,359.96 L915.54,359.50 L916.00,361.25 L916.50,365.85 L917.00,367.39 L917.50,367.59 L918.00,367.79 L918.50,368.02 L919.00,369.04 L919.50,370.24 L920.00,369.93 L920.50,369.89 L921.00,369.13 L921.50,369.22 L922.00,370.18 L922.50,369.89 L923.00,370.36 L923.50,369.92 L924.00,369.83 L924.50,369.23 L925.00,368.32 L925.50,369.12 L926.00,368.89 L926.50,368.25 L927.00,369.03 L927.50,368.95 L928.00,368.05 L928.50,368.39 L929.00,369.26 L929.50,368.84 L930.00,367.96 L930.50,368.79 L931.00,370.07 L931.50,369.29 L932.00,368.42 L932.50,369.38 L933.00,369.53 L933.50,369.41 L934.00,368.88 L934.50,368.83 L935.00,369.91 L935.50,370.36 L936.00,370.14 L936.50,368.71 L937.00,368.82 L937.50,369.29 L938.00,367.17 L938.50,366.23 L939.00,366.23 L939.05,365.00 L939.50,366.02 L940.00,367.48 L940.50,367.52 L941.00,369.13 L941.50,369.59 L942.00,368.98 L942.50,368.83 L943.00,369.19 L943.50,369.64 L944.00,369.63 L944.50,369.20 L945.00,367.29 L945.50,362.37 L946.00,357.62 L946.20,358.00 L946.50,359.18 L947.00,363.04 L947.50,367.34 L948.00,369.17 L948.50,368.34 L949.00,367.52 L949.50,366.12 L950.00,363.04 L950.29,363.00 L950.50,363.45 L951.00,365.72 L951.50,367.98 L952.00,368.02 L952.50,368.17 L953.00,367.97 L953.50,368.17 L954.00,368.17 L954.50,368.82 L955.00,369.51 L955.50,369.61 L956.00,370.26 L956.50,369.93 L957.00,368.97 L957.50,368.46 L958.00,369.51 L958.50,369.27 L959.00,368.92 L959.50,369.89 L960.00,369.02 L960.50,368.11 L961.00,368.25 L961.50,369.09 L962.00,369.50 L962.50,368.75 L963.00,368.90 L963.50,368.95 L964.00,368.31 L964.50,368.81 L965.00,368.63 L965.50,368.76 L966.00,368.97 L966.50,368.59 L967.00,369.21 L967.50,369.37 L968.00,368.95 L968.50,368.94 L969.00,369.68 L969.50,368.99 L970.00,367.70 L970.50,369.12 L971.00,369.14 L971.50,368.38 L972.00,369.58 L972.50,369.00 L973.00,367.72 L973.50,364.68 L974.00,356.76 L974.50,348.63 L974.82,347.70 L975.00,347.96 L975.50,354.22 L976.00,362.33 L976.50,367.23 L977.00,368.67 L977.50,367.99 L978.00,368.67 L978.50,369.37 L979.00,369.40 L979.50,370.01 L980.00,370.15 L980.50,369.66 L981.00,369.83 L981.50,369.16 L982.00,368.67 L982.50,368.92 L983.00,368.93 L983.50,368.31 L984.00,364.89 L984.50,360.39 L985.00,357.95 L985.04,358.00 L985.50,360.06 L986.00,363.68 L986.50,367.14 L987.00,368.81 L987.50,368.41 L988.00,369.07 L988.50,368.64 L989.00,367.99 L989.50,369.03 L990.00,368.60 L990.50,367.70 L991.00,367.85 L991.50,367.65 L992.00,368.40 L992.50,368.91 L993.00,367.86 L993.50,367.19 L994.00,367.24 L994.50,367.60 L995.00,367.85 L995.50,367.74 L996.00,367.28 L996.50,366.35 L997.00,364.77 L997.50,362.58 L998.00,359.59 L998.33,359.70 L998.50,359.97 L999.00,361.03 L999.50,362.92 L1000.00,363.67 L1000.50,363.41 L1001.00,360.85 L1001.50,356.91 L1002.00,342.84 L1002.50,294.87 L1003.00,165.78 L1003.50,-115.09 L1004.00,-598.48 L1004.50,-1225.38 L1005.00,-1783.06 L1005.48,-2000.00 L1005.50,-2000.13 L1006.00,-1749.16 L1006.50,-1175.12 L1007.00,-552.80 L1007.50,-85.17 L1008.00,180.61 L1008.50,300.43 L1009.00,343.54 L1009.50,356.29 L1010.00,360.95 L1010.50,362.65 L1011.00,364.22 L1011.50,366.11 L1012.00,365.74 L1012.50,366.01 L1013.00,366.64 L1013.50,366.54 L1014.00,366.74 L1014.50,364.03 L1015.00,358.28 L1015.50,354.74 L1015.70,355.00 L1016.00,355.25 L1016.50,359.53 L1017.00,364.17 L1017.50,366.95 L1018.00,368.33 L1018.50,368.58 L1019.00,368.95 L1019.50,368.95 L1020.00,368.92 L1020.50,369.48 L1021.00,369.30 L1021.50,369.49 L1022.00,369.39 L1022.50,368.47 L1023.00,368.23 L1023.50,367.81 L1024.00,367.36 L1024.50,367.34 L1025.00,365.92 L1025.50,364.30 L1025.92,363.70 L1026.00,363.97 L1026.50,365.71 L1027.00,366.59 L1027.50,367.62 L1028.00,368.70 L1028.50,368.51 L1029.00,368.82 L1029.50,368.76 L1030.00,369.21 L1030.50,370.08 L1031.00,369.68 L1031.50,368.79 L1032.00,365.00 L1032.50,360.92 L1033.00,358.88 L1033.07,358.00 L1033.50,359.22 L1034.00,363.42 L1034.50,367.20 L1035.00,369.32 L1035.50,368.91 L1036.00,369.11 L1036.50,370.31 L1037.00,370.15 L1037.50,369.52 L1038.00,368.45 L1038.50,368.09 L1039.00,368.59 L1039.50,368.49 L1040.00,366.78 L1040.50,363.43 L1041.00,360.73 L1041.25,361.00 L1041.50,361.74 L1042.00,363.94 L1042.50,366.50 L1043.00,368.00 L1043.50,369.30 L1044.00,369.23 L1044.50,368.74 L1045.00,368.71 L1045.50,368.40 L1046.00,368.97 L1046.50,368.64 L1047.00,368.53 L1047.50,368.74 L1048.00,369.45 L1048.50,369.56 L1049.00,369.26 L1049.50,370.06 L1050.00,370.39 L1050.50,369.79 L1051.00,369.60 L1051.50,369.17 L1052.00,369.38 L1052.50,370.51 L1053.00,369.20 L1053.50,368.75 L1054.00,369.48 L1054.50,369.64 L1055.00,370.09 L1055.50,369.80 L1056.00,368.93 L1056.50,369.48 L1057.00,369.40 L1057.50,367.92 L1058.00,368.09 L1058.50,368.22 L1059.00,367.18 L1059.50,366.22 L1059.65,366.00 L1060.00,365.45 L1060.50,367.48 L1061.00,368.85 L1061.50,368.39 L1062.00,369.67 L1062.50,370.59 L1063.00,369.53 L1063.50,368.62 L1064.00,369.26 L1064.50,368.98 L1065.00,369.13 L1065.50,369.79 L1066.00,369.93 L1066.50,369.60 L1067.00,369.65 L1067.50,370.35 L1068.00,369.33 L1068.50,368.85 L1069.00,369.00 L1069.50,368.65 L1070.00,368.74 L1070.50,369.54 L1071.00,369.40 L1071.50,369.53 L1072.00,370.17 L1072.50,369.67 L1073.00,369.90 L1073.50,370.42 L1074.00,369.61 L1074.50,368.66 L1075.00,369.08 L1075.50,369.60 L1076.00,369.85 L1076.50,369.64 L1077.00,369.04 L1077.50,368.20 L1078.00,368.36 L1078.50,367.31 L1079.00,365.17 L1079.06,366.00 L1079.50,366.86 L1080.00,367.23 L1080.50,368.14 L1081.00,369.24 L1081.50,369.35 L1082.00,368.48 L1082.50,369.26 L1083.00,369.85 L1083.50,369.98 L1084.00,369.42 L1084.50,368.28 L1085.00,369.44 L1085.50,369.25 L1086.00,367.44 L1086.50,366.61 L1087.00,365.11 L1087.24,364.00 L1087.50,364.60 L1088.00,366.65 L1088.50,367.41 L1089.00,368.02 L1089.50,368.94 L1090.00,369.83 L1090.50,370.40 L1091.00,369.22 L1091.50,368.28 L1092.00,368.29 L1092.50,368.53 L1093.00,368.90 L1093.50,368.95 L1094.00,368.69 L1094.50,368.95 L1095.00,369.25 L1095.50,368.91 L1096.00,368.10 L1096.50,366.32 L1097.00,361.08 L1097.50,349.30 L1098.00,334.83 L1098.48,326.00 L1098.50,325.11 L1099.00,327.60 L1099.50,331.40 L1100.00,325.16 L1100.50,305.68 L1101.00,282.59 L1101.50,271.73 L1101.55,272.00 L1102.00,280.18 L1102.50,303.26 L1103.00,328.65 L1103.50,348.38 L1104.00,360.73 L1104.50,366.59 L1105.00,368.13 L1105.50,368.70 L1106.00,369.08 L1106.50,369.25 L1107.00,369.03 L1107.50,368.89 L1108.00,369.33 L1108.50,368.52 L1109.00,368.18 L1109.50,368.49 L1110.00,369.07 L1110.50,368.92 L1111.00,368.86 L1111.50,368.65 L1112.00,367.89 L1112.50,368.39 L1113.00,368.49 L1113.50,368.67 L1114.00,368.82 L1114.50,369.45 L1115.00,369.07 L1115.50,368.06 L1116.00,369.33 L1116.50,370.17 L1117.00,369.52 L1117.50,368.75 L1118.00,369.39 L1118.50,369.09 L1119.00,368.80 L1119.50,368.75 L1120.00,368.14 L1120.50,368.90 L1121.00,369.49 L1121.50,370.07 L1122.00,370.49 L1122.50,369.69 L1123.00,368.66 L1123.50,368.24 L1124.00,368.85 L1124.50,368.81 L1125.00,368.91 L1125.50,368.91 L1126.00,367.97 L1126.50,369.15 L1127.00,369.23 L1127.50,368.41 L1128.00,368.64 L1128.50,368.43 L1129.00,368.67 L1129.50,369.13 L1130.00,369.14 L1130.50,367.47 L1131.00,363.46 L1131.50,359.64 L1132.00,357.17 L1132.00,357.00 L1132.50,360.47 L1133.00,365.47 L1133.50,368.13 L1134.00,369.16 L1134.50,369.90 L1135.00,370.22 L1135.50,370.10 L1136.00,369.09 L1136.50,369.55 L1137.00,369.98 L1137.50,369.10 L1138.00,369.75 L1138.50,370.19 L1139.00,368.82 L1139.50,367.29 L1140.00,365.30 L1140.50,361.29 L1141.00,354.50 L1141.41,351.50 L1141.50,352.54 L1142.00,357.38 L1142.50,363.07 L1143.00,366.42 L1143.50,368.47 L1144.00,369.89 L1144.50,368.83 L1145.00,365.85 L1145.50,361.83 L1146.00,355.82 L1146.50,351.71 L1146.52,351.00 L1147.00,354.73 L1147.50,362.42 L1148.00,367.61 L1148.50,369.45 L1149.00,370.13 L1149.50,370.26 L1150.00,368.92 L1150.50,369.30 L1151.00,369.64 L1151.50,368.47 L1152.00,368.95 L1152.50,369.18 L1153.00,369.13 L1153.50,367.90 L1154.00,364.97 L1154.50,362.88 L1154.69,363.00 L1155.00,363.17 L1155.50,364.85 L1156.00,367.44 L1156.50,368.61 L1157.00,369.28 L1157.50,368.93 L1158.00,368.38 L1158.50,368.46 L1159.00,368.99 L1159.50,368.87 L1160.00,369.14 L1160.50,369.82 L1161.00,369.81 L1161.50,370.32 L1162.00,369.34 L1162.50,369.50 L1163.00,369.96 L1163.50,369.29 L1164.00,367.35 L1164.50,365.86 L1164.91,366.00 L1165.00,364.87 L1165.50,365.49 L1166.00,367.35 L1166.50,367.85 L1167.00,369.18 L1167.50,369.73 L1168.00,368.66 L1168.50,368.54 L1169.00,368.58 L1169.50,369.60 L1170.00,370.55 L1170.50,369.50 L1171.00,368.71 L1171.50,369.47 L1172.00,370.37 L1172.50,369.97 L1173.00,369.85 L1173.50,369.53 L1174.00,369.15 L1174.50,369.06 L1175.00,369.43 L1175.50,369.90 L1176.00,369.89 L1176.50,369.46 L1177.00,368.77 L1177.50,369.59 L1178.00,368.99 L1178.50,368.31 L1179.00,369.25 L1179.50,368.99 L1180.00,368.93 L1180.50,368.79 L1181.00,368.92 L1181.50,368.85 L1182.00,369.20 L1182.50,369.57 L1183.00,369.23 L1183.50,369.68 L1184.00,369.15 L1184.50,369.61 L1185.00,369.68 L1185.50,367.71 L1186.00,363.31 L1186.50,359.94 L1186.68,360.00 L1187.00,360.75 L1187.50,364.84 L1188.00,367.15 L1188.50,368.15 L1189.00,368.93 L1189.50,368.69 L1190.00,368.44 L1190.50,369.09 L1191.00,370.16 L1191.50,369.54 L1192.00,367.95 L1192.50,364.40 L1193.00,356.60 L1193.50,351.75 L1193.53,352.50 L1194.00,356.48 L1194.50,362.66 L1195.00,366.66 L1195.50,369.22 L1196.00,368.92 L1196.50,367.81 L1197.00,367.90 L1197.50,368.03 L1198.00,368.29 L1198.50,367.95 L1199.00,365.65 L1199.50,364.09 L1199.66,364.00 L1200.00,364.73 L1200.50,367.80 L1201.00,368.65 L1201.50,368.94 L1202.00,369.16 L1202.50,368.54 L1203.00,368.34 L1203.50,368.59 L1204.00,368.57 L1204.50,368.51 L1205.00,368.39 L1205.50,368.03 L1206.00,369.36 L1206.50,370.30 L1207.00,369.78 L1207.50,369.80 L1208.00,370.12 L1208.50,369.18 L1209.00,369.40 L1209.50,370.44 L1210.00,369.33 L1210.50,369.26 L1211.00,370.00 L1211.50,368.87 L1212.00,368.09 L1212.50,368.77 L1213.00,369.16 L1213.50,367.14 L1214.00,360.20 L1214.50,352.15 L1214.89,351.00 L1215.00,351.34 L1215.50,356.14 L1216.00,362.63 L1216.50,363.39 L1217.00,354.88 L1217.50,338.72 L1217.95,330.50 L1218.00,329.33 L1218.50,339.39 L1219.00,356.10 L1219.50,365.36 L1220.00,368.66 L1220.50,369.68 L1221.00,368.68 L1221.50,367.73 L1222.00,368.40 L1222.50,368.66 L1223.00,367.77 L1223.50,366.43 L1224.00,361.66 L1224.50,342.79 L1225.00,308.92 L1225.50,288.65 L1225.52,288.50 L1226.00,305.49 L1226.50,334.28 L1227.00,341.55 L1227.50,335.42 L1227.66,335.00 L1228.00,340.15 L1228.50,354.72 L1229.00,364.52 L1229.50,367.34 L1230.00,368.35 L1230.50,369.59 L1231.00,369.45 L1231.50,368.35 L1232.00,367.96 L1232.50,368.06 L1233.00,368.76 L1233.50,369.72 L1234.00,369.04 L1234.50,368.26 L1235.00,368.29 L1235.50,368.89 L1236.00,369.74 L1236.50,369.97 L1237.00,369.10 L1237.50,368.08 L1238.00,368.84 L1238.50,368.91 L1239.00,368.89 L1239.50,369.53 L1240.00,369.25 L1240.50,369.59 L1241.00,370.04 L1241.50,369.98 L1242.00,369.99 L1242.50,369.62 L1243.00,369.86 L1243.50,369.46 L1244.00,369.35 L1244.50,369.85 L1245.00,369.15 L1245.50,369.61 L1246.00,369.96 L1246.50,369.32 L1247.00,369.10 L1247.50,368.58 L1248.00,368.09 L1248.50,368.74 L1249.00,367.61 L1249.50,365.93 L1249.74,366.00 L1250.00,366.78 L1250.50,368.15 L1251.00,368.38 L1251.50,368.37 L1252.00,368.34 L1252.50,369.24 L1253.00,369.20 L1253.50,368.67 L1254.00,368.92 L1254.50,368.50 L1255.00,368.89 L1255.50,368.78 L1256.00,368.07 L1256.50,368.23 L1257.00,368.97 L1257.50,369.35 L1258.00,369.43 L1258.50,368.05 L1259.00,364.18 L1259.50,361.11 L1259.96,359.50 L1260.00,358.72 L1260.50,362.21 L1261.00,365.82 L1261.50,367.59 L1262.00,369.26 L1262.50,369.47 L1263.00,366.83 L1263.50,363.31 L1264.00,361.80 L1264.05,362.00 L1264.50,363.26 L1265.00,366.05 L1265.50,367.93 L1266.00,368.34 L1266.50,368.65 L1267.00,369.30 L1267.50,370.30 L1268.00,369.36 L1268.50,368.06 L1269.00,368.41 L1269.50,368.44 L1270.00,368.34" stroke="#6f5fa3" stroke-width="2.6"/>
<path d="M713.19,306.00 L713.19,353.00" stroke="#8e8e8e" stroke-width="2.4" stroke-dasharray="9.8 6.7"/>
<path d="M713.19,353.00 L713.19,369.50" stroke="#6e6390" stroke-width="2.4"/>
<path d="M715.23,331.00 L715.23,365.47" stroke="#8e8e8e" stroke-width="2.4" stroke-dasharray="9.8 6.7"/>
<path d="M715.23,365.47 L715.23,369.50" stroke="#6e6390" stroke-width="2.4"/>
<path d="M727.50,315.00 L727.50,362.00" stroke="#8e8e8e" stroke-width="2.4" stroke-dasharray="9.8 6.7"/>
<path d="M727.50,362.00 L727.50,369.50" stroke="#6e6390" stroke-width="2.4"/>
<path d="M749.98,323.00 L749.98,353.47" stroke="#8e8e8e" stroke-width="2.4" stroke-dasharray="9.8 6.7"/>
<path d="M749.98,353.47 L749.98,369.50" stroke="#6e6390" stroke-width="2.4"/>
<path d="M808.23,342.50 L808.23,359.95" stroke="#8e8e8e" stroke-width="2.4" stroke-dasharray="9.8 6.7"/>
<path d="M808.23,359.95 L808.23,369.50" stroke="#6e6390" stroke-width="2.4"/>
<path d="M833.78,350.50 L833.78,363.55" stroke="#8e8e8e" stroke-width="2.4" stroke-dasharray="9.8 6.7"/>
<path d="M833.78,363.55 L833.78,369.50" stroke="#6e6390" stroke-width="2.4"/>
<path d="M839.92,345.50 L839.92,359.50" stroke="#8e8e8e" stroke-width="2.4" stroke-dasharray="9.8 6.7"/>
<path d="M839.92,359.50 L839.92,369.50" stroke="#6e6390" stroke-width="2.4"/>
<path d="M862.40,75.40 L862.40,162.00" stroke="#8e8e8e" stroke-width="2.4" stroke-dasharray="11.5 4.5"/>
<path d="M862.40,162.00 L862.40,369.50" stroke="#6e6390" stroke-width="2.4"/>
<path d="M903.28,140.00 L903.28,369.50" stroke="#6e6390" stroke-width="2.4"/>
<path d="M915.54,342.60 L915.54,360.50" stroke="#8e8e8e" stroke-width="2.4" stroke-dasharray="9.8 6.7"/>
<path d="M915.54,360.50 L915.54,369.50" stroke="#6e6390" stroke-width="2.4"/>
<path d="M946.20,352.00 L946.20,358.62" stroke="#8e8e8e" stroke-width="2.4" stroke-dasharray="9.8 6.7"/>
<path d="M946.20,358.62 L946.20,369.50" stroke="#6e6390" stroke-width="2.4"/>
<path d="M985.04,352.00 L985.04,358.95" stroke="#8e8e8e" stroke-width="2.4" stroke-dasharray="9.8 6.7"/>
<path d="M985.04,358.95 L985.04,369.50" stroke="#6e6390" stroke-width="2.4"/>
<path d="M1036.14,344.30 L1036.14,369.91" stroke="#8e8e8e" stroke-width="2.4" stroke-dasharray="9.8 6.7"/>
<path d="M1036.14,369.91 L1036.14,369.50" stroke="#6e6390" stroke-width="2.4"/>
<path d="M1041.25,357.60 L1041.25,361.73" stroke="#8e8e8e" stroke-width="2.4" stroke-dasharray="9.8 6.7"/>
<path d="M1041.25,361.73 L1041.25,369.50" stroke="#6e6390" stroke-width="2.4"/>
<path d="M1068.84,354.40 L1068.84,369.65" stroke="#8e8e8e" stroke-width="2.4" stroke-dasharray="9.8 6.7"/>
<path d="M1068.84,369.65 L1068.84,369.50" stroke="#6e6390" stroke-width="2.4"/>
<path d="M1087.24,355.70 L1087.24,365.00" stroke="#8e8e8e" stroke-width="2.4" stroke-dasharray="9.8 6.7"/>
<path d="M1087.24,365.00 L1087.24,369.50" stroke="#6e6390" stroke-width="2.4"/>
<path d="M1101.55,92.00 L1101.55,272.73" stroke="#8e8e8e" stroke-width="2.4" stroke-dasharray="11.5 4.5"/>
<path d="M1101.55,272.73 L1101.55,369.50" stroke="#6e6390" stroke-width="2.4"/>
<path d="M1110.75,360.50 L1110.75,369.65" stroke="#8e8e8e" stroke-width="2.4" stroke-dasharray="9.8 6.7"/>
<path d="M1110.75,369.65 L1110.75,369.50" stroke="#6e6390" stroke-width="2.4"/>
<path d="M1114.83,360.50 L1114.83,369.06" stroke="#8e8e8e" stroke-width="2.4" stroke-dasharray="9.8 6.7"/>
<path d="M1114.83,369.06 L1114.83,369.50" stroke="#6e6390" stroke-width="2.4"/>
<path d="M1145.49,334.40 L1145.49,352.00" stroke="#8e8e8e" stroke-width="2.4" stroke-dasharray="9.8 6.7"/>
<path d="M1145.49,352.00 L1145.49,369.50" stroke="#6e6390" stroke-width="2.4"/>
<path d="M1217.03,345.00 L1217.03,369.50" stroke="#6e6390" stroke-width="2.4"/>
<path d="M1223.17,350.00 L1223.17,362.66" stroke="#8e8e8e" stroke-width="2.4" stroke-dasharray="9.8 6.7"/>
<path d="M1223.17,362.66 L1223.17,369.50" stroke="#6e6390" stroke-width="2.4"/>
<path d="M1262.00,362.00 L1262.00,366.82" stroke="#8e8e8e" stroke-width="2.4" stroke-dasharray="9.8 6.7"/>
<path d="M1262.00,366.82 L1262.00,369.50" stroke="#6e6390" stroke-width="2.4"/>
<path d="M1005.48,2 V366.50" stroke="#7a6f95" stroke-width="4.4"/>
<path d="M1005.48,2 V40" stroke="#cfcfcf" stroke-width="1.3" stroke-dasharray="2.5 5"/>
<path d="M659.00,369.00 H1271.00" stroke="#808080" stroke-width="1.2" stroke-dasharray="4 3"/>
</g>
<line x1="681" y1="29.5" x2="705.5" y2="29.5" stroke="#aa9ecb" stroke-width="2.4"/>
<line x1="681" y1="52" x2="716" y2="52" stroke="#3a3a3a" stroke-width="2" stroke-dasharray="5 4.5"/>
<text x="722.5" y="34.6" class="lg" fill="#7d6bb3" font-weight="bold" font-size="15.9">Geological Pyrrhotite</text>
<text x="724.5" y="56.6" class="lg" fill="#727272" font-weight="bold" font-size="16">Litrature</text>
<g><text x="658.00" y="399.50" class="n">10</text><text x="760.20" y="399.50" class="n">20</text><text x="862.40" y="399.50" class="n">30</text><text x="964.60" y="399.50" class="n">40</text><text x="1066.80" y="399.50" class="n">50</text><text x="1169.00" y="399.50" class="n">60</text><text x="1271.20" y="399.50" class="n">70</text></g>
<text x="973.5" y="413.6" class="ttl">2Θ</text>
<text x="971" y="463.8" class="cap">(b)</text>
<g fill="none" stroke="#aaa" stroke-width="2.2"><rect x="343.75" y="528" width="602.25" height="364" rx="1.5"/><line x1="343.75" y1="892.00" x2="343.75" y2="897.50"/><line x1="444.15" y1="892.00" x2="444.15" y2="897.50"/><line x1="544.55" y1="892.00" x2="544.55" y2="897.50"/><line x1="644.95" y1="892.00" x2="644.95" y2="897.50"/><line x1="745.35" y1="892.00" x2="745.35" y2="897.50"/><line x1="845.75" y1="892.00" x2="845.75" y2="897.50"/><line x1="946.15" y1="892.00" x2="946.15" y2="897.50"/></g>
<g clip-path="url(#cc)" fill="none" stroke-linejoin="round">
<path d="M345.25,890.51 L345.75,888.67 L346.25,887.39 L346.75,886.61 L347.25,887.46 L347.75,889.08 L348.25,890.15 L348.75,891.34 L349.25,891.74 L349.75,891.51 L350.25,891.14 L350.75,890.04 L351.25,888.59 L351.75,886.32 L352.25,884.40 L352.75,885.22 L353.25,887.77 L353.75,889.36 L354.25,889.88 L354.75,890.94 L355.25,891.87 L355.75,890.40 L356.25,888.30 L356.75,887.77 L357.25,888.15 L357.75,889.36 L358.25,890.20 L358.75,890.94 L359.25,891.52 L359.75,890.99 L360.25,890.77 L360.75,889.21 L361.25,887.18 L361.75,887.11 L362.25,888.45 L362.75,890.34 L363.25,890.65 L363.75,890.50 L364.25,890.76 L364.75,891.43 L365.25,892.03 L365.75,890.67 L366.25,888.00 L366.75,885.74 L367.25,885.31 L367.75,887.97 L368.25,890.12 L368.75,890.13 L369.25,890.61 L369.75,891.12 L370.25,891.01 L370.75,891.02 L371.25,890.37 L371.75,888.29 L372.25,886.33 L372.75,885.75 L373.25,887.35 L373.75,889.51 L374.25,890.21 L374.75,890.85 L375.25,891.49 L375.75,889.94 L376.25,886.12 L376.75,882.51 L377.25,882.40 L377.75,885.58 L378.25,888.61 L378.75,889.90 L379.25,890.78 L379.75,891.64 L380.25,891.08 L380.75,890.99 L381.25,891.35 L381.75,891.31 L382.25,891.10 L382.75,891.17 L383.25,891.61 L383.75,891.57 L384.25,890.93 L384.75,889.78 L385.25,888.76 L385.75,888.81 L386.25,890.47 L386.75,890.84 L387.25,890.47 L387.75,890.61 L388.25,890.12 L388.75,889.22 L389.25,887.33 L389.75,883.88 L390.25,883.13 L390.75,886.14 L391.25,889.19 L391.75,890.70 L392.25,890.59 L392.75,890.38 L393.25,890.94 L393.75,890.93 L394.25,890.44 L394.75,890.49 L395.25,890.83 L395.75,890.69 L396.25,890.74 L396.75,891.44 L397.25,890.54 L397.75,886.85 L398.25,884.17 L398.75,886.15 L399.25,889.49 L399.75,891.31 L400.25,891.95 L400.75,892.13 L401.25,891.49 L401.75,891.17 L402.25,891.28 L402.75,890.03 L403.25,888.37 L403.75,886.64 L404.25,885.98 L404.75,887.27 L405.25,889.86 L405.75,891.46 L406.25,890.77 L406.75,890.72 L407.25,890.73 L407.75,891.04 L408.25,892.01 L408.75,891.22 L409.25,890.81 L409.75,891.12 L410.25,890.16 L410.75,889.70 L411.25,888.64 L411.75,887.77 L412.25,888.78 L412.75,889.88 L413.25,890.55 L413.75,890.88 L414.25,890.71 L414.75,891.23 L415.25,892.16 L415.75,892.02 L416.25,891.24 L416.75,889.96 L417.25,888.74 L417.75,887.13 L418.25,886.01 L418.75,887.47 L419.25,889.69 L419.75,890.03 L420.25,890.58 L420.75,890.81 L421.25,890.64 L421.75,891.29 L422.25,891.06 L422.75,888.92 L423.25,885.60 L423.75,884.32 L424.25,886.31 L424.75,889.05 L425.25,890.54 L425.75,891.50 L426.25,891.72 L426.75,890.57 L427.25,890.58 L427.75,890.41 L428.25,889.19 L428.75,887.86 L429.25,885.46 L429.75,882.48 L430.25,880.22 L430.75,879.36 L431.25,879.40 L431.75,879.82 L432.10,880.00 L432.25,879.17 L432.75,879.53 L433.25,881.72 L433.75,883.17 L434.25,884.26 L434.75,886.02 L435.25,888.26 L435.75,889.59 L436.25,890.20 L436.75,890.76 L437.25,888.95 L437.75,886.13 L438.25,885.27 L438.75,885.74 L439.25,887.41 L439.75,889.39 L440.25,890.89 L440.75,891.72 L441.25,891.44 L441.75,891.02 L442.25,890.63 L442.75,890.21 L443.25,890.18 L443.75,890.87 L444.25,891.20 L444.75,891.17 L445.25,889.95 L445.75,887.31 L446.25,886.22 L446.75,887.99 L447.25,890.40 L447.75,891.35 L448.25,891.13 L448.75,891.41 L449.25,892.06 L449.75,891.42 L450.25,890.81 L450.75,890.75 L451.25,890.70 L451.75,890.75 L452.25,890.93 L452.75,890.84 L453.25,891.33 L453.75,891.80 L454.25,890.81 L454.75,890.49 L455.25,890.57 L455.75,890.69 L456.25,891.15 L456.75,890.76 L457.25,890.60 L457.75,891.05 L458.25,891.47 L458.75,891.02 L459.25,890.37 L459.75,890.26 L460.25,889.49 L460.75,889.17 L461.25,889.55 L461.75,890.11 L462.25,890.47 L462.75,890.67 L463.25,890.89 L463.75,890.57 L464.25,891.25 L464.75,891.65 L465.25,891.06 L465.75,891.40 L466.25,890.85 L466.75,889.49 L467.25,888.72 L467.75,889.02 L468.25,890.07 L468.75,890.14 L469.25,890.62 L469.75,890.86 L470.25,890.89 L470.75,891.44 L471.25,891.60 L471.75,891.73 L472.25,891.56 L472.75,891.62 L473.25,891.19 L473.75,890.29 L474.25,891.09 L474.75,892.04 L475.25,891.90 L475.75,890.39 L476.25,889.91 L476.75,890.46 L477.25,890.78 L477.75,891.63 L478.25,891.77 L478.75,891.24 L479.25,891.49 L479.75,891.30 L480.25,890.70 L480.75,891.39 L481.25,891.77 L481.75,891.23 L482.25,890.41 L482.75,890.04 L483.25,889.77 L483.75,889.88 L484.25,890.04 L484.75,890.48 L485.25,890.72 L485.75,890.64 L486.25,890.94 L486.75,891.11 L487.25,890.95 L487.75,890.85 L488.25,890.50 L488.75,890.21 L489.25,889.81 L489.75,888.52 L490.25,888.63 L490.75,889.42 L491.25,889.60 L491.75,890.36 L492.25,891.46 L492.75,891.31 L493.25,890.70 L493.75,891.21 L494.25,890.99 L494.75,890.78 L495.25,891.67 L495.75,892.12 L496.25,891.93 L496.75,891.27 L497.25,890.31 L497.75,889.98 L498.25,889.70 L498.75,888.89 L499.25,889.46 L499.75,890.72 L500.25,890.74 L500.75,890.33 L501.25,890.18 L501.75,890.33 L502.25,891.39 L502.75,892.08 L503.25,891.44 L503.75,890.55 L504.25,891.11 L504.75,891.59 L505.25,891.20 L505.75,891.05 L506.25,890.33 L506.75,889.36 L507.25,889.39 L507.75,890.69 L508.25,891.21 L508.75,891.10 L509.25,890.96 L509.75,890.75 L510.25,890.48 L510.75,890.81 L511.25,890.89 L511.75,890.84 L512.25,891.08 L512.75,890.62 L513.25,890.90 L513.75,891.24 L514.25,890.81 L514.75,890.78 L515.25,890.35 L515.75,890.09 L516.25,890.67 L516.75,890.62 L517.25,890.21 L517.75,889.98 L518.25,890.81 L518.75,891.75 L519.25,891.47 L519.75,891.14 L520.25,891.29 L520.75,890.91 L521.25,890.44 L521.75,890.30 L522.25,889.55 L522.75,888.43 L523.25,887.84 L523.75,888.02 L524.25,888.82 L524.75,889.58 L525.25,890.01 L525.75,891.06 L526.25,891.52 L526.75,890.77 L527.25,890.93 L527.75,891.11 L528.25,891.37 L528.75,891.80 L529.25,891.41 L529.75,891.54 L530.25,891.50 L530.75,891.27 L531.25,890.55 L531.75,889.95 L532.25,890.26 L532.75,890.10 L533.25,890.28 L533.75,891.20 L534.25,891.55 L534.75,890.89 L535.25,890.82 L535.75,890.93 L536.25,889.78 L536.75,888.61 L537.25,888.63 L537.75,888.97 L538.25,889.01 L538.75,889.34 L539.25,888.59 L539.75,885.98 L540.25,881.18 L540.75,874.70 L541.25,865.38 L541.75,852.18 L542.25,835.93 L542.75,817.45 L543.25,800.36 L543.75,785.43 L544.25,775.83 L544.55,775.00 L544.75,775.44 L545.25,782.76 L545.75,796.78 L546.25,814.35 L546.75,832.35 L547.25,847.78 L547.75,860.87 L548.25,871.44 L548.75,879.60 L549.25,885.24 L549.75,888.04 L550.25,889.11 L550.75,889.24 L551.25,889.30 L551.75,890.16 L552.25,890.64 L552.75,890.33 L553.25,890.70 L553.75,890.68 L554.25,889.97 L554.75,890.00 L555.25,889.16 L555.75,888.48 L556.25,889.24 L556.75,890.08 L557.25,890.96 L557.75,891.68 L558.25,891.35 L558.75,890.56 L559.25,890.83 L559.75,891.19 L560.25,890.26 L560.75,889.63 L561.25,889.20 L561.75,889.09 L562.25,889.75 L562.75,890.36 L563.25,890.61 L563.75,890.81 L564.25,891.08 L564.75,891.32 L565.25,891.64 L565.75,891.47 L566.25,890.53 L566.75,889.82 L567.25,889.82 L567.75,889.50 L568.25,890.27 L568.75,890.63 L569.25,890.10 L569.75,890.52 L570.25,890.75 L570.75,890.43 L571.25,890.83 L571.75,891.64 L572.25,890.91 L572.75,890.30 L573.25,890.03 L573.75,889.47 L574.25,889.84 L574.75,889.53 L575.25,888.96 L575.75,889.81 L576.25,889.24 L576.75,887.60 L577.25,885.20 L577.75,880.12 L578.25,870.96 L578.75,857.11 L579.25,835.64 L579.75,807.14 L580.25,776.19 L580.75,746.51 L581.25,725.53 L581.70,718.60 L581.75,718.55 L582.25,729.60 L582.75,752.89 L583.25,782.99 L583.75,813.91 L584.25,840.97 L584.75,860.61 L585.25,872.48 L585.75,880.93 L586.25,885.72 L586.75,888.13 L587.25,889.43 L587.75,890.10 L588.25,890.00 L588.75,890.03 L589.25,890.28 L589.75,889.58 L590.25,889.65 L590.75,889.96 L591.25,889.50 L591.75,890.11 L592.25,891.20 L592.75,891.07 L593.25,890.78 L593.75,890.77 L594.25,891.30 L594.75,891.08 L595.25,890.33 L595.75,889.82 L596.25,889.33 L596.75,889.04 L597.25,889.63 L597.75,890.15 L598.25,890.19 L598.75,890.60 L599.25,890.30 L599.75,890.56 L600.25,890.69 L600.75,890.07 L601.25,889.89 L601.75,889.44 L602.25,889.63 L602.75,888.54 L603.25,886.77 L603.75,885.25 L604.25,882.36 L604.75,878.91 L605.25,874.26 L605.75,868.63 L606.25,862.01 L606.75,855.77 L607.25,851.58 L607.75,849.57 L607.80,848.90 L608.25,849.69 L608.75,853.55 L609.25,859.37 L609.75,866.08 L610.25,871.80 L610.75,877.97 L611.25,882.63 L611.75,885.60 L612.25,888.31 L612.75,889.45 L613.25,890.06 L613.75,890.36 L614.25,890.22 L614.75,889.56 L615.25,889.63 L615.75,890.66 L616.25,890.99 L616.75,891.32 L617.25,891.38 L617.75,890.96 L618.25,890.60 L618.75,891.04 L619.25,891.47 L619.75,890.74 L620.25,890.81 L620.75,890.74 L621.25,890.20 L621.75,890.63 L622.25,890.06 L622.75,888.29 L623.25,888.02 L623.75,888.99 L624.25,889.49 L624.75,890.04 L625.25,890.70 L625.75,890.54 L626.25,890.66 L626.75,891.49 L627.25,891.37 L627.75,890.08 L628.25,888.47 L628.75,887.91 L629.25,888.88 L629.75,889.27 L630.25,889.92 L630.75,891.19 L631.25,891.17 L631.75,891.04 L632.25,891.37 L632.75,890.47 L633.25,888.92 L633.75,887.73 L634.25,888.20 L634.75,889.02 L635.25,889.27 L635.75,890.60 L636.25,891.17 L636.75,890.81 L637.25,890.99 L637.75,891.55 L638.25,890.88 L638.75,890.55 L639.25,890.41 L639.75,889.61 L640.25,889.12 L640.75,889.46 L641.25,890.50 L641.75,890.32 L642.25,890.48 L642.75,890.75 L643.25,890.79 L643.75,890.40 L644.25,889.08 L644.75,888.18 L645.25,888.32 L645.75,889.67 L646.25,890.32 L646.75,890.00 L647.25,890.48 L647.75,891.47 L648.25,891.59 L648.75,890.57 L649.25,890.75 L649.75,891.70 L650.25,891.57 L650.75,890.63 L651.25,890.29 L651.75,890.48 L652.25,890.07 L652.75,890.13 L653.25,889.47 L653.75,888.76 L654.25,889.16 L654.75,890.02 L655.25,890.95 L655.75,890.66 L656.25,890.32 L656.75,890.59 L657.25,889.83 L657.75,889.64 L658.25,890.36 L658.75,889.86 L659.25,888.85 L659.75,887.89 L660.25,885.14 L660.75,882.01 L661.25,879.97 L661.75,874.71 L662.25,865.23 L662.75,853.31 L663.25,838.28 L663.75,823.34 L664.25,810.88 L664.75,801.93 L665.03,800.30 L665.25,801.81 L665.75,808.58 L666.25,820.28 L666.75,834.96 L667.25,850.01 L667.75,862.82 L668.25,871.84 L668.75,878.34 L669.25,882.47 L669.75,883.50 L670.25,883.53 L670.75,883.66 L671.25,881.78 L671.75,879.04 L672.25,876.25 L672.75,873.69 L673.25,871.02 L673.75,862.90 L674.25,832.98 L674.75,729.42 L675.25,437.73 L675.75,-171.79 L676.25,-1052.55 L676.75,-1821.58 L677.08,-2000.00 L677.25,-1949.73 L677.75,-1330.49 L678.25,-428.62 L678.75,284.25 L679.25,664.72 L679.75,811.09 L680.25,856.54 L680.75,870.77 L681.25,875.37 L681.75,878.35 L682.25,880.22 L682.75,880.93 L683.25,881.44 L683.75,881.06 L684.25,879.28 L684.75,875.82 L685.25,872.74 L685.75,871.65 L686.11,872.00 L686.25,872.12 L686.75,873.86 L687.25,876.30 L687.75,877.91 L688.25,877.54 L688.75,874.76 L689.25,869.04 L689.75,861.25 L690.25,853.18 L690.75,845.65 L691.25,839.35 L691.74,837.20 L691.75,838.08 L692.25,840.27 L692.75,845.72 L693.25,854.22 L693.75,863.73 L694.25,872.42 L694.75,879.20 L695.25,883.87 L695.75,886.32 L696.25,887.25 L696.75,887.95 L697.25,887.58 L697.75,887.35 L698.25,888.19 L698.75,889.50 L699.25,890.56 L699.75,890.83 L700.25,890.18 L700.75,889.59 L701.25,889.64 L701.75,889.65 L702.25,889.78 L702.75,890.22 L703.25,890.21 L703.75,890.22 L704.25,889.59 L704.75,888.69 L705.25,887.85 L705.75,887.49 L706.25,889.43 L706.75,890.29 L707.25,889.84 L707.75,890.68 L708.25,890.78 L708.75,889.66 L709.25,888.72 L709.75,888.36 L710.25,889.04 L710.75,890.05 L711.25,889.85 L711.75,888.51 L712.25,887.32 L712.75,884.71 L713.25,879.52 L713.75,872.69 L714.25,864.29 L714.75,854.29 L715.25,844.55 L715.75,838.15 L716.23,836.00 L716.25,835.66 L716.75,838.19 L717.25,845.15 L717.75,855.08 L718.25,864.38 L718.75,872.69 L719.25,880.11 L719.75,884.32 L720.25,886.32 L720.75,886.60 L721.25,887.24 L721.75,888.40 L722.25,889.36 L722.75,890.01 L723.25,890.31 L723.75,891.22 L724.25,891.76 L724.75,891.17 L725.25,890.74 L725.75,890.98 L726.25,891.10 L726.75,891.36 L727.25,890.94 L727.75,890.11 L728.25,888.79 L728.75,888.91 L729.25,889.71 L729.75,889.71 L730.25,890.62 L730.75,890.77 L731.25,890.57 L731.75,890.91 L732.25,890.66 L732.75,890.26 L733.25,890.93 L733.75,890.82 L734.25,890.81 L734.75,891.31 L735.25,890.27 L735.75,890.01 L736.25,890.65 L736.75,890.89 L737.25,890.96 L737.75,890.47 L738.25,889.89 L738.75,890.34 L739.25,890.71 L739.75,889.79 L740.25,889.10 L740.75,888.56 L741.25,887.33 L741.75,887.19 L742.25,886.57 L742.75,885.29 L743.25,885.47 L743.34,886.00 L743.75,885.90 L744.25,886.04 L744.75,885.93 L745.25,886.28 L745.75,888.11 L746.25,889.02 L746.75,889.40 L747.25,890.58 L747.75,891.08 L748.25,890.87 L748.75,890.38 L749.25,890.63 L749.75,891.20 L750.25,890.49 L750.75,890.52 L751.25,890.64 L751.75,890.81 L752.25,890.80 L752.75,890.07 L753.25,889.33 L753.75,889.39 L754.25,890.74 L754.75,891.58 L755.25,891.46 L755.75,891.46 L756.25,891.38 L756.75,890.68 L757.25,890.86 L757.75,891.44 L758.25,891.26 L758.75,890.90 L759.25,889.67 L759.75,889.03 L760.25,889.02 L760.75,889.31 L761.25,889.95 L761.75,889.70 L762.25,890.16 L762.75,889.64 L763.25,887.81 L763.75,886.57 L764.25,884.82 L764.75,882.32 L765.25,879.41 L765.75,875.04 L766.25,870.54 L766.75,868.39 L767.25,868.11 L767.44,868.00 L767.75,867.98 L768.25,869.85 L768.75,872.31 L769.25,875.19 L769.75,878.63 L770.25,881.84 L770.75,884.35 L771.25,885.50 L771.75,886.90 L772.25,886.79 L772.75,884.54 L773.25,879.92 L773.75,872.16 L774.25,859.97 L774.75,842.29 L775.25,820.03 L775.75,794.79 L776.25,770.48 L776.75,750.84 L777.25,740.51 L777.48,739.50 L777.75,741.62 L778.25,754.38 L778.75,774.43 L779.25,798.30 L779.75,822.91 L780.25,844.76 L780.75,861.51 L781.25,872.95 L781.75,880.50 L782.25,885.31 L782.75,887.37 L783.25,888.37 L783.75,888.60 L784.25,888.47 L784.75,889.17 L785.25,889.51 L785.75,889.46 L786.25,889.37 L786.75,889.97 L787.25,890.70 L787.75,890.49 L788.25,889.89 L788.75,890.04 L789.25,891.11 L789.75,891.78 L790.25,891.30 L790.75,890.26 L791.25,888.96 L791.75,888.33 L792.25,888.94 L792.75,889.98 L793.25,891.14 L793.75,891.85 L794.25,891.37 L794.75,890.71 L795.25,890.10 L795.75,890.20 L796.25,890.18 L796.75,890.30 L797.25,890.90 L797.75,890.56 L798.25,891.03 L798.75,890.71 L799.25,889.60 L799.75,889.07 L800.25,889.46 L800.75,889.46 L801.25,888.99 L801.75,889.26 L802.25,890.05 L802.75,890.64 L803.25,889.09 L803.75,886.95 L804.25,884.21 L804.75,879.69 L805.25,874.10 L805.75,868.11 L806.25,861.69 L806.75,855.46 L807.25,852.39 L807.60,851.40 L807.75,850.60 L808.25,853.34 L808.75,858.87 L809.25,866.23 L809.75,873.60 L810.25,878.77 L810.75,882.65 L811.25,885.62 L811.75,887.09 L812.25,888.45 L812.75,889.57 L813.25,890.18 L813.75,890.58 L814.25,890.50 L814.75,890.67 L815.25,891.25 L815.75,890.68 L816.25,889.96 L816.75,889.94 L817.25,890.36 L817.75,890.96 L818.25,890.24 L818.75,889.30 L819.25,889.74 L819.75,889.47 L820.25,888.85 L820.75,887.98 L821.25,885.99 L821.75,884.74 L822.25,883.35 L822.66,882.00 L822.75,882.67 L823.25,883.44 L823.75,884.75 L824.25,886.95 L824.75,888.31 L825.25,889.05 L825.75,889.26 L826.25,889.47 L826.75,890.64 L827.25,891.20 L827.75,889.55 L828.25,888.43 L828.75,888.74 L829.25,889.43 L829.75,889.89 L830.25,890.23 L830.75,890.77 L831.25,891.18 L831.75,890.90 L832.25,890.55 L832.75,890.44 L833.25,889.13 L833.75,888.16 L834.25,889.20 L834.75,890.71 L835.25,891.42 L835.75,891.27 L836.25,890.57 L836.75,890.95 L837.25,890.95 L837.75,890.24 L838.25,890.66 L838.75,890.85 L839.25,890.94 L839.75,891.50 L840.25,890.80 L840.75,890.94 L841.25,891.61 L841.75,890.91 L842.25,890.57 L842.75,890.85 L843.25,890.13 L843.75,890.04 L844.25,890.89 L844.75,890.43 L845.25,889.93 L845.75,889.93 L846.25,890.52 L846.75,890.68 L847.25,890.14 L847.75,890.65 L848.25,890.37 L848.75,890.19 L849.25,889.92 L849.75,888.48 L850.25,886.91 L850.75,884.86 L851.25,882.36 L851.75,880.55 L852.25,877.69 L852.75,873.54 L853.25,869.30 L853.75,864.10 L854.25,858.46 L854.75,854.41 L855.25,851.49 L855.75,849.56 L855.79,849.40 L856.25,849.22 L856.75,852.77 L857.25,857.66 L857.75,863.01 L858.25,868.38 L858.75,873.55 L859.25,877.75 L859.75,880.91 L860.25,884.36 L860.75,887.23 L861.25,888.09 L861.75,889.01 L862.25,890.17 L862.75,889.85 L863.25,888.69 L863.75,888.26 L864.25,889.47 L864.75,890.62 L865.25,891.26 L865.75,890.81 L866.25,890.79 L866.75,891.30 L867.25,891.08 L867.75,891.13 L868.25,890.72 L868.75,890.39 L869.25,890.09 L869.75,889.76 L870.25,890.58 L870.75,890.61 L871.25,890.61 L871.75,891.06 L872.25,890.90 L872.75,890.41 L873.25,890.61 L873.75,890.47 L874.25,889.35 L874.75,889.21 L875.25,888.22 L875.75,883.83 L876.25,877.91 L876.75,871.88 L877.25,864.69 L877.75,855.88 L878.25,847.36 L878.75,842.91 L878.88,843.00 L879.25,844.50 L879.75,848.92 L880.25,855.32 L880.75,861.28 L881.25,865.08 L881.75,867.33 L882.25,868.81 L882.40,870.00 L882.75,872.23 L883.25,875.34 L883.75,877.83 L884.25,880.53 L884.75,884.82 L885.25,888.49 L885.75,890.11 L886.25,889.82 L886.75,888.90 L887.25,887.99 L887.75,886.57 L888.25,883.73 L888.75,880.14 L889.25,877.73 L889.75,875.37 L890.25,872.82 L890.75,871.25 L890.93,870.70 L891.25,870.76 L891.75,870.91 L892.25,871.94 L892.75,874.32 L893.25,876.24 L893.75,877.62 L894.25,878.37 L894.75,878.99 L895.25,879.27 L895.75,878.76 L895.95,878.00 L896.25,878.16 L896.75,879.43 L897.25,880.80 L897.75,882.00 L898.25,884.35 L898.75,886.49 L899.25,886.48 L899.75,885.85 L900.25,884.77 L900.75,884.07 L901.25,883.61 L901.75,882.36 L901.97,882.00 L902.25,882.90 L902.75,884.12 L903.25,884.80 L903.75,885.49 L904.25,887.15 L904.75,888.70 L905.25,888.79 L905.75,887.39 L906.25,887.37 L906.75,888.90 L907.25,889.79 L907.75,890.25 L908.25,890.77 L908.75,891.43 L909.25,891.21 L909.75,890.50 L910.25,890.20 L910.75,890.91 L911.25,891.68 L911.75,890.77 L912.25,889.51 L912.75,889.86 L913.25,890.30 L913.75,890.57 L914.25,890.56 L914.75,890.66 L915.25,891.73 L915.75,891.28 L916.25,891.04 L916.75,891.44 L917.25,891.60 L917.75,891.55 L918.25,891.07 L918.75,890.21 L919.25,888.66 L919.75,888.28 L920.25,888.89 L920.75,889.33 L921.25,890.20 L921.75,891.48 L922.25,891.08 L922.75,890.68 L923.25,890.83 L923.75,889.81 L924.25,889.29 L924.75,889.94 L925.25,890.80 L925.75,890.91 L926.25,891.03 L926.75,891.44 L927.25,891.50 L927.75,891.39 L928.25,891.52 L928.75,891.28 L929.25,891.04 L929.75,891.25 L930.25,891.03 L930.75,890.58 L931.25,890.56 L931.75,890.68 L932.25,889.57 L932.75,889.41 L933.25,890.09 L933.75,890.50 L934.25,891.30 L934.75,890.90 L935.25,890.62 L935.75,890.48 L936.25,890.23 L936.75,891.08 L937.25,891.10 L937.75,889.70 L938.25,889.93 L938.75,890.73 L939.25,890.33 L939.75,890.88 L940.25,891.88 L940.75,891.83 L941.25,891.58 L941.75,891.56 L942.25,891.36 L942.75,890.43 L943.25,889.77 L943.75,889.63 L944.25,890.27 L944.75,891.41 L945.25,890.93" stroke="#19a34b" stroke-width="3.6"/>
<path d="M677.08,528 V872" stroke="#4f8462" stroke-width="2.4"/>
<path d="M416.04,872.80 L416.04,891.00" stroke="#666" stroke-width="4.4" stroke-dasharray="14.00 17.00" stroke-dashoffset="0.00" stroke-linecap="round"/>
<path d="M416.04,872.80 L416.04,891.00" stroke="#d4d4d4" stroke-width="1.8" stroke-dasharray="14.00 17.00" stroke-dashoffset="0.00" stroke-linecap="round"/>
<path d="M432.10,835.00 L432.10,891.00" stroke="#666" stroke-width="4.4" stroke-dasharray="14.00 17.00" stroke-dashoffset="0.00" stroke-linecap="round"/>
<path d="M432.10,835.00 L432.10,891.00" stroke="#d4d4d4" stroke-width="1.8" stroke-dasharray="14.00 17.00" stroke-dashoffset="0.00" stroke-linecap="round"/>
<path d="M432.60,854.70 L432.60,891.00" stroke="#666" stroke-width="4.4" stroke-dasharray="14.00 17.00" stroke-dashoffset="0.00" stroke-linecap="round"/>
<path d="M432.60,854.70 L432.60,891.00" stroke="#d4d4d4" stroke-width="1.8" stroke-dasharray="14.00 17.00" stroke-dashoffset="0.00" stroke-linecap="round"/>
<path d="M529.49,882.70 L529.49,891.00" stroke="#666" stroke-width="4.4" stroke-dasharray="14.00 17.00" stroke-dashoffset="0.00" stroke-linecap="round"/>
<path d="M529.49,882.70 L529.49,891.00" stroke="#d4d4d4" stroke-width="1.8" stroke-dasharray="14.00 17.00" stroke-dashoffset="0.00" stroke-linecap="round"/>
<path d="M544.55,580.80 L544.55,891.00" stroke="#666" stroke-width="4.4" stroke-dasharray="14.00 17.00" stroke-dashoffset="7.10" stroke-linecap="round"/>
<path d="M544.55,580.80 L544.55,891.00" stroke="#d4d4d4" stroke-width="1.8" stroke-dasharray="14.00 17.00" stroke-dashoffset="7.10" stroke-linecap="round"/>
<path d="M548.57,839.70 L548.57,891.00" stroke="#666" stroke-width="4.4" stroke-dasharray="14.00 17.00" stroke-dashoffset="0.00" stroke-linecap="round"/>
<path d="M548.57,839.70 L548.57,891.00" stroke="#d4d4d4" stroke-width="1.8" stroke-dasharray="14.00 17.00" stroke-dashoffset="0.00" stroke-linecap="round"/>
<path d="M581.70,626.40 L581.70,891.00" stroke="#666" stroke-width="4.4" stroke-dasharray="14.00 17.00" stroke-dashoffset="0.00" stroke-linecap="round"/>
<path d="M581.70,626.40 L581.70,891.00" stroke="#d4d4d4" stroke-width="1.8" stroke-dasharray="14.00 17.00" stroke-dashoffset="0.00" stroke-linecap="round"/>
<path d="M600.77,850.20 L600.77,891.00" stroke="#666" stroke-width="4.4" stroke-dasharray="14.00 17.00" stroke-dashoffset="0.00" stroke-linecap="round"/>
<path d="M600.77,850.20 L600.77,891.00" stroke="#d4d4d4" stroke-width="1.8" stroke-dasharray="14.00 17.00" stroke-dashoffset="0.00" stroke-linecap="round"/>
<path d="M665.03,862.20 L665.03,891.00" stroke="#666" stroke-width="4.4" stroke-dasharray="14.00 17.00" stroke-dashoffset="0.00" stroke-linecap="round"/>
<path d="M665.03,862.20 L665.03,891.00" stroke="#d4d4d4" stroke-width="1.8" stroke-dasharray="14.00 17.00" stroke-dashoffset="0.00" stroke-linecap="round"/>
<path d="M677.08,878.20 L677.08,891.00" stroke="#666" stroke-width="4.4" stroke-dasharray="14.00 17.00" stroke-dashoffset="0.00" stroke-linecap="round"/>
<path d="M677.08,878.20 L677.08,891.00" stroke="#d4d4d4" stroke-width="1.8" stroke-dasharray="14.00 17.00" stroke-dashoffset="0.00" stroke-linecap="round"/>
<path d="M708.20,874.40 L708.20,891.00" stroke="#666" stroke-width="4.4" stroke-dasharray="14.00 17.00" stroke-dashoffset="0.00" stroke-linecap="round"/>
<path d="M708.20,874.40 L708.20,891.00" stroke="#d4d4d4" stroke-width="1.8" stroke-dasharray="14.00 17.00" stroke-dashoffset="0.00" stroke-linecap="round"/>
<path d="M716.23,812.20 L716.23,891.00" stroke="#666" stroke-width="4.4" stroke-dasharray="14.00 17.00" stroke-dashoffset="0.00" stroke-linecap="round"/>
<path d="M716.23,812.20 L716.23,891.00" stroke="#d4d4d4" stroke-width="1.8" stroke-dasharray="14.00 17.00" stroke-dashoffset="0.00" stroke-linecap="round"/>
<path d="M767.44,827.30 L767.44,891.00" stroke="#666" stroke-width="4.4" stroke-dasharray="14.00 17.00" stroke-dashoffset="9.00" stroke-linecap="round"/>
<path d="M767.44,827.30 L767.44,891.00" stroke="#d4d4d4" stroke-width="1.8" stroke-dasharray="14.00 17.00" stroke-dashoffset="9.00" stroke-linecap="round"/>
<path d="M777.48,684.40 L777.48,891.00" stroke="#666" stroke-width="4.4" stroke-dasharray="14.00 17.00" stroke-dashoffset="6.60" stroke-linecap="round"/>
<path d="M777.48,684.40 L777.48,891.00" stroke="#d4d4d4" stroke-width="1.8" stroke-dasharray="14.00 17.00" stroke-dashoffset="6.60" stroke-linecap="round"/>
<path d="M807.60,853.20 L807.60,891.00" stroke="#666" stroke-width="4.4" stroke-dasharray="14.00 17.00" stroke-dashoffset="0.00" stroke-linecap="round"/>
<path d="M807.60,853.20 L807.60,891.00" stroke="#d4d4d4" stroke-width="1.8" stroke-dasharray="14.00 17.00" stroke-dashoffset="0.00" stroke-linecap="round"/>
<path d="M812.62,877.00 L812.62,891.00" stroke="#666" stroke-width="4.4" stroke-dasharray="14.00 17.00" stroke-dashoffset="0.00" stroke-linecap="round"/>
<path d="M812.62,877.00 L812.62,891.00" stroke="#d4d4d4" stroke-width="1.8" stroke-dasharray="14.00 17.00" stroke-dashoffset="0.00" stroke-linecap="round"/>
<path d="M822.66,883.70 L822.66,891.00" stroke="#666" stroke-width="4.4" stroke-dasharray="14.00 17.00" stroke-dashoffset="0.00" stroke-linecap="round"/>
<path d="M822.66,883.70 L822.66,891.00" stroke="#d4d4d4" stroke-width="1.8" stroke-dasharray="14.00 17.00" stroke-dashoffset="0.00" stroke-linecap="round"/>
<path d="M863.82,872.90 L863.82,891.00" stroke="#666" stroke-width="4.4" stroke-dasharray="14.00 17.00" stroke-dashoffset="0.00" stroke-linecap="round"/>
<path d="M863.82,872.90 L863.82,891.00" stroke="#d4d4d4" stroke-width="1.8" stroke-dasharray="14.00 17.00" stroke-dashoffset="0.00" stroke-linecap="round"/>
<path d="M878.88,845.20 L878.88,891.00" stroke="#666" stroke-width="4.4" stroke-dasharray="14.00 17.00" stroke-dashoffset="0.00" stroke-linecap="round"/>
<path d="M878.88,845.20 L878.88,891.00" stroke="#d4d4d4" stroke-width="1.8" stroke-dasharray="14.00 17.00" stroke-dashoffset="0.00" stroke-linecap="round"/>
<path d="M890.93,864.80 L890.93,891.00" stroke="#666" stroke-width="4.4" stroke-dasharray="14.00 17.00" stroke-dashoffset="0.00" stroke-linecap="round"/>
<path d="M890.93,864.80 L890.93,891.00" stroke="#d4d4d4" stroke-width="1.8" stroke-dasharray="14.00 17.00" stroke-dashoffset="0.00" stroke-linecap="round"/>
<path d="M901.97,877.60 L901.97,891.00" stroke="#666" stroke-width="4.4" stroke-dasharray="14.00 17.00" stroke-dashoffset="0.00" stroke-linecap="round"/>
<path d="M901.97,877.60 L901.97,891.00" stroke="#d4d4d4" stroke-width="1.8" stroke-dasharray="14.00 17.00" stroke-dashoffset="0.00" stroke-linecap="round"/>
<path d="M945.15,883.10 L945.15,891.00" stroke="#666" stroke-width="4.4" stroke-dasharray="14.00 17.00" stroke-dashoffset="0.00" stroke-linecap="round"/>
<path d="M945.15,883.10 L945.15,891.00" stroke="#d4d4d4" stroke-width="1.8" stroke-dasharray="14.00 17.00" stroke-dashoffset="0.00" stroke-linecap="round"/>
</g>
<line x1="360.2" y1="557.7" x2="399.2" y2="557.7" stroke="#6cc892" stroke-width="3"/>
<line x1="360" y1="580.4" x2="393" y2="580.4" stroke="#999" stroke-width="1.6" stroke-dasharray="3.6 2"/>
<text x="408.2" y="563.1" class="lg" fill="#2aac60" stroke="#2aac60" stroke-width="0.35" font-size="16" letter-spacing="0.2">Synthesized Troilite</text>
<text x="409.3" y="584.8" class="lg" fill="#959595" stroke="#959595" stroke-width="0.2" font-size="16" letter-spacing="0.33">Literature</text>
<g><text x="343.75" y="921.80" class="n">10</text><text x="444.15" y="921.80" class="n">20</text><text x="544.55" y="921.80" class="n">30</text><text x="644.95" y="921.80" class="n">40</text><text x="745.35" y="921.80" class="n">50</text><text x="845.75" y="921.80" class="n">60</text><text x="946.15" y="921.80" class="n">70</text></g>
<text x="643" y="938.4" class="ttl">2Θ</text>
<text x="645" y="988.5" class="cap">(c)</text>
</svg>
</body></html>
